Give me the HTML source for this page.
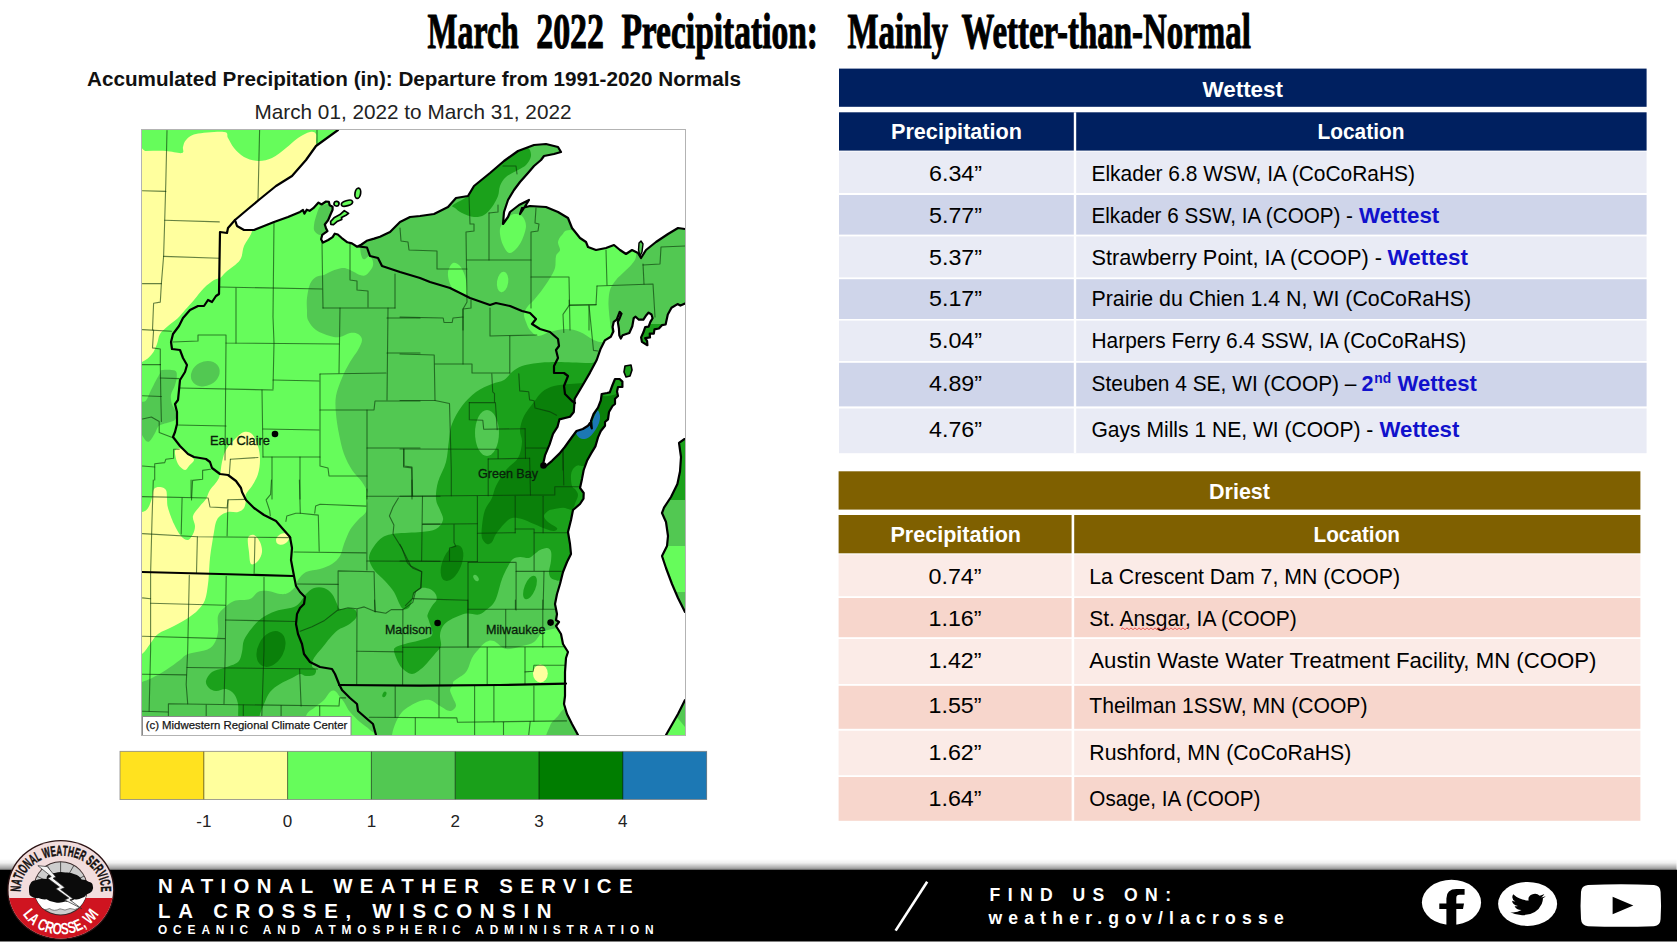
<!DOCTYPE html>
<html lang="en"><head><meta charset="utf-8"><title>March 2022 Precipitation: Mainly Wetter-than-Normal</title>
<style>
html,body{margin:0;padding:0;background:#fff;}
body{width:1678px;height:944px;overflow:hidden;font-family:"Liberation Sans",sans-serif;}
svg{display:block;position:absolute;left:0;top:0;}
text{white-space:pre;}
</style></head><body>
<svg width="1678" height="944" viewBox="0 0 1678 944">
<rect width="1678" height="944" fill="#fff"/>
<text x="427.6" y="47.7" textLength="91.2" lengthAdjust="spacingAndGlyphs" font-family='"Liberation Serif", serif' font-size="50.2" font-weight="bold" fill="#000" stroke="#000" stroke-width="1.1" stroke-linejoin="round">March</text>
<text x="536.2" y="47.7" textLength="67.8" lengthAdjust="spacingAndGlyphs" font-family='"Liberation Serif", serif' font-size="50.2" font-weight="bold" fill="#000" stroke="#000" stroke-width="1.1" stroke-linejoin="round">2022</text>
<text x="621.4" y="47.7" textLength="196.6" lengthAdjust="spacingAndGlyphs" font-family='"Liberation Serif", serif' font-size="50.2" font-weight="bold" fill="#000" stroke="#000" stroke-width="1.1" stroke-linejoin="round">Precipitation:</text>
<text x="847.4" y="47.7" textLength="100.6" lengthAdjust="spacingAndGlyphs" font-family='"Liberation Serif", serif' font-size="50.2" font-weight="bold" fill="#000" stroke="#000" stroke-width="1.1" stroke-linejoin="round">Mainly</text>
<text x="961.4" y="47.7" textLength="289.4" lengthAdjust="spacingAndGlyphs" font-family='"Liberation Serif", serif' font-size="50.2" font-weight="bold" fill="#000" stroke="#000" stroke-width="1.1" stroke-linejoin="round">Wetter-than-Normal</text>
<text x="87" y="86.3" textLength="654" lengthAdjust="spacingAndGlyphs" font-family='"Liberation Sans", sans-serif' font-size="19.6" font-weight="bold" fill="#111" >Accumulated Precipitation (in): Departure from 1991-2020 Normals</text>
<text x="254.5" y="119.2" textLength="317.0" lengthAdjust="spacingAndGlyphs" font-family='"Liberation Sans", sans-serif' font-size="19.8" font-weight="normal" fill="#222" >March 01, 2022 to March 31, 2022</text>
<defs><clipPath id="mapclip"><rect x="142" y="130" width="543" height="605"/></clipPath></defs>
<g clip-path="url(#mapclip)">
<rect x="137" y="125" width="553" height="615" fill="#66fc5b"/>
<path d="M125 151 C128.5 115.2 139.2 151.0 146 151 C152.8 151.0 160.0 150.7 166 151 C172.0 151.3 179.2 153.7 182 153 C184.8 152.3 182.3 149.2 183 147 C183.7 144.8 183.8 142.2 186 140 C188.2 137.8 189.7 135.3 196 134 C202.3 132.7 218.7 131.3 224 132 C229.3 132.7 226.3 135.3 228 138 C229.7 140.7 231.3 144.8 234 148 C236.7 151.2 240.0 154.8 244 157 C248.0 159.2 253.3 160.8 258 161 C262.7 161.2 267.3 160.2 272 158 C276.7 155.8 281.7 151.3 286 148 C290.3 144.7 294.0 140.7 298 138 C302.0 135.3 307.0 132.7 310 132 C313.0 131.3 314.8 131.8 316 134 C317.2 136.2 314.7 142.3 317 145 C319.3 147.7 332.8 143.3 330 150 C327.2 156.7 311.3 175.0 300 185 C288.7 195.0 271.0 203.8 262 210 C253.0 216.2 247.7 218.5 246 222 C244.3 225.5 252.3 227.0 252 231 C251.7 235.0 246.0 241.2 244 246 C242.0 250.8 243.0 255.7 240 260 C237.0 264.3 229.3 269.0 226 272 C222.7 275.0 222.0 276.7 220 278 C218.0 279.3 216.7 278.3 214 280 C211.3 281.7 207.3 284.7 204 288 C200.7 291.3 197.2 296.3 194 300 C190.8 303.7 187.7 307.0 185 310 C182.3 313.0 180.8 315.3 178 318 C175.2 320.7 171.0 323.3 168 326 C165.0 328.7 161.8 331.0 160 334 C158.2 337.0 158.3 340.7 157 344 C155.7 347.3 154.5 351.0 152 354 C149.5 357.0 146.5 360.0 142 362 C137.5 364.0 127.8 401.2 125 366 C122.2 330.8 121.5 186.8 125 151 Z" fill="#ffff9e" />
<path d="M244 432 C246.7 431.3 249.7 431.7 252 434 C254.3 436.3 256.7 441.7 258 446 C259.3 450.3 260.0 455.3 260 460 C260.0 464.7 259.3 469.7 258 474 C256.7 478.3 254.0 482.7 252 486 C250.0 489.3 247.0 491.7 246 494 C245.0 496.3 246.3 497.7 246 500 C245.7 502.3 245.3 506.0 244 508 C242.7 510.0 240.7 511.3 238 512 C235.3 512.7 231.0 511.3 228 512 C225.0 512.7 222.0 514.3 220 516 C218.0 517.7 217.0 519.3 216 522 C215.0 524.7 214.7 528.3 214 532 C213.3 535.7 212.7 539.7 212 544 C211.3 548.3 210.5 553.3 210 558 C209.5 562.7 209.3 567.7 209 572 C208.7 576.3 208.7 579.3 208 584 C207.3 588.7 206.7 595.7 205 600 C203.3 604.3 200.8 607.0 198 610 C195.2 613.0 192.0 615.3 188 618 C184.0 620.7 179.0 623.3 174 626 C169.0 628.7 162.0 631.0 158 634 C154.0 637.0 152.7 640.7 150 644 C147.3 647.3 146.2 650.7 142 654 C137.8 657.3 127.8 687.3 125 664 C122.2 640.7 122.2 539.3 125 514 C127.8 488.7 138.2 513.0 142 512 C145.8 511.0 146.3 510.3 148 508 C149.7 505.7 151.0 501.2 152 498 C153.0 494.8 152.7 490.8 154 489 C155.3 487.2 158.0 486.8 160 487 C162.0 487.2 164.8 488.0 166 490 C167.2 492.0 166.7 496.0 167 499 C167.3 502.0 166.8 503.8 168 508 C169.2 512.2 171.8 519.3 174 524 C176.2 528.7 178.7 533.3 181 536 C183.3 538.7 186.0 540.3 188 540 C190.0 539.7 191.8 536.3 193 534 C194.2 531.7 195.0 529.0 195 526 C195.0 523.0 192.2 519.3 193 516 C193.8 512.7 197.8 508.8 200 506 C202.2 503.2 204.3 501.7 206 499 C207.7 496.3 207.8 493.5 210 490 C212.2 486.5 217.0 482.7 219 478 C221.0 473.3 220.8 466.7 222 462 C223.2 457.3 223.7 454.0 226 450 C228.3 446.0 233.0 441.0 236 438 C239.0 435.0 241.3 432.7 244 432 Z" fill="#ffff9e" />
<path d="M175 451 C175.5 448.5 178.5 448.2 181 449 C183.5 449.8 187.8 454.2 190 456 C192.2 457.8 194.2 458.3 194 460 C193.8 461.7 190.5 464.3 189 466 C187.5 467.7 186.8 470.3 185 470 C183.2 469.7 179.7 467.2 178 464 C176.3 460.8 174.5 453.5 175 451 Z" fill="#ffff9e" />
<path d="M248 538 C248.8 535.2 252.0 534.3 254 535 C256.0 535.7 258.7 539.2 260 542 C261.3 544.8 262.3 548.8 262 552 C261.7 555.2 259.8 559.0 258 561 C256.2 563.0 252.5 565.5 251 564 C249.5 562.5 249.5 556.3 249 552 C248.5 547.7 247.2 540.8 248 538 Z" fill="#ffff9e" />
<ellipse cx="282.5" cy="539" rx="7" ry="5.2" transform="rotate(-30 282.5 539)" fill="#ffff9e" />
<path d="M360 246 C361.7 270.3 367.8 253.3 370 256 C372.2 258.7 372.7 260.0 373 262 C373.3 264.0 373.2 265.8 372 268 C370.8 270.2 368.0 273.8 366 275 C364.0 276.2 362.0 275.5 360 275 C358.0 274.5 356.0 273.0 354 272 C352.0 271.0 350.0 269.7 348 269 C346.0 268.3 344.7 267.7 342 268 C339.3 268.3 335.0 269.8 332 271 C329.0 272.2 326.7 274.0 324 275 C321.3 276.0 318.3 275.5 316 277 C313.7 278.5 311.5 280.5 310 284 C308.5 287.5 307.5 293.7 307 298 C306.5 302.3 306.8 306.3 307 310 C307.2 313.7 306.5 316.7 308 320 C309.5 323.3 312.3 327.3 316 330 C319.7 332.7 326.0 334.8 330 336 C334.0 337.2 336.7 337.5 340 337 C343.3 336.5 347.0 333.5 350 333 C353.0 332.5 356.0 332.8 358 334 C360.0 335.2 362.0 337.3 362 340 C362.0 342.7 360.0 346.3 358 350 C356.0 353.7 352.7 357.3 350 362 C347.3 366.7 344.3 372.3 342 378 C339.7 383.7 337.0 390.0 336 396 C335.0 402.0 335.5 407.7 336 414 C336.5 420.3 337.7 427.3 339 434 C340.3 440.7 341.8 448.0 344 454 C346.2 460.0 349.0 465.3 352 470 C355.0 474.7 359.3 478.0 362 482 C364.7 486.0 367.2 490.3 368 494 C368.8 497.7 367.3 501.0 367 504 C366.7 507.0 367.5 509.3 366 512 C364.5 514.7 360.7 517.0 358 520 C355.3 523.0 352.3 526.0 350 530 C347.7 534.0 345.7 539.7 344 544 C342.3 548.3 342.0 552.7 340 556 C338.0 559.3 335.3 561.8 332 564 C328.7 566.2 324.3 567.7 320 569 C315.7 570.3 309.7 570.2 306 572 C302.3 573.8 299.7 577.7 298 580 C296.3 582.3 297.7 583.8 296 586 C294.3 588.2 290.7 591.7 288 593 C285.3 594.3 283.3 594.3 280 594 C276.7 593.7 271.7 591.3 268 591 C264.3 590.7 261.0 590.7 258 592 C255.0 593.3 254.0 597.5 250 599 C246.0 600.5 238.3 599.5 234 601 C229.7 602.5 226.7 605.5 224 608 C221.3 610.5 219.0 612.0 218 616 C217.0 620.0 218.7 627.3 218 632 C217.3 636.7 216.0 641.0 214 644 C212.0 647.0 210.3 648.3 206 650 C201.7 651.7 192.3 652.3 188 654 C183.7 655.7 183.7 657.3 180 660 C176.3 662.7 170.7 667.0 166 670 C161.3 673.0 156.0 676.0 152 678 C148.0 680.0 147.3 680.0 142 682 C136.7 684.0 123.7 678.7 120 690 C116.3 701.3 74.7 740.0 120 750 C165.3 760.0 346.7 752.5 392 750 C437.3 747.5 391.3 739.7 392 735 C392.7 730.3 394.3 725.8 396 722 C397.7 718.2 399.7 714.7 402 712 C404.3 709.3 407.0 707.8 410 706 C413.0 704.2 416.7 702.0 420 701 C423.3 700.0 426.7 699.2 430 700 C433.3 700.8 436.7 704.2 440 706 C443.3 707.8 447.3 711.0 450 711 C452.7 711.0 455.5 708.2 456 706 C456.5 703.8 454.0 700.7 453 698 C452.0 695.3 450.0 692.2 450 690 C450.0 687.8 452.3 686.5 453 685 C453.7 683.5 451.8 683.2 454 681 C456.2 678.8 463.0 675.8 466 672 C469.0 668.2 470.0 661.7 472 658 C474.0 654.3 475.7 652.7 478 650 C480.3 647.3 483.3 643.5 486 642 C488.7 640.5 490.7 639.8 494 641 C497.3 642.2 501.3 648.2 506 649 C510.7 649.8 517.3 647.2 522 646 C526.7 644.8 530.7 644.3 534 642 C537.3 639.7 539.7 634.0 542 632 C544.3 630.0 545.3 630.7 548 630 C550.7 629.3 553.5 628.7 558 628 C562.5 627.3 561.3 630.7 575 626 C588.7 621.3 615.8 604.3 640 600 C664.2 595.7 706.7 681.7 720 600 C733.3 518.3 780.0 191.7 720 110 C660.0 28.3 420.0 87.3 360 110 C300.0 132.7 358.3 221.7 360 246 Z" fill="#52c852" />
<path d="M319.3 207.4 C320.6 205.6 322.2 205.6 324 205 C325.8 204.4 328.5 203.5 330 204 C331.5 204.5 333.0 206.1 333 208 C333.0 209.9 331.4 212.8 330 215.6 C328.6 218.3 324.8 221.8 324.5 224.5 C324.2 227.2 328.8 229.8 328 231.5 C327.2 233.2 322.2 235.0 320 234.9 C317.8 234.8 315.5 232.8 314.5 231.1 C313.5 229.4 313.8 227.1 314.1 224.5 C314.4 221.9 315.4 218.4 316.3 215.6 C317.2 212.8 318.0 209.2 319.3 207.4 Z" fill="#52c852" />
<path d="M162 370 C164.4 369.6 172.3 369.4 174.8 370.5 C177.3 371.6 176.8 374.3 176.8 376.8 C176.8 379.3 175.8 382.7 174.8 385.7 C173.8 388.7 171.5 391.6 171 394.6 C170.5 397.6 170.9 400.5 171.7 403.5 C172.5 406.5 175.5 409.6 176 412.4 C176.5 415.1 176.9 418.1 174.8 420 C172.7 421.9 166.2 422.9 163.4 424 C160.7 425.1 159.8 424.7 158.3 426.4 C156.8 428.1 156.1 431.4 154.5 434 C152.9 436.6 150.6 441.1 148.8 441.7 C147.0 442.3 145.5 440.8 143.7 437.8 C141.9 434.9 138.9 429.7 138 424 C137.1 418.3 136.7 407.3 138 403.5 C139.3 399.7 143.5 403.1 145.6 401 C147.7 398.9 149.0 394.2 150.7 390.8 C152.4 387.4 154.2 383.7 155.8 380.7 C157.4 377.7 159.2 374.8 160.2 373 C161.2 371.2 159.6 370.4 162 370 Z" fill="#52c852" />
<ellipse cx="205.3" cy="373.7" rx="15" ry="12" transform="rotate(-28 205.3 373.7)" fill="#52c852" />
<path d="M548 745 C541.3 741.8 548.3 730.8 550 726 C551.7 721.2 555.7 718.8 558 716 C560.3 713.2 561.2 710.8 564 709 C566.8 707.2 570.7 699.0 575 705 C579.3 711.0 594.5 738.3 590 745 C585.5 751.7 554.7 748.2 548 745 Z" fill="#52c852" />
<path d="M660 745 L672 722 L690 705 L700 745 Z" fill="#66fc5b" />
<path d="M676 716 L690 690 L700 700 L700 745 Z" fill="#52c852" />
<path d="M514 214 C516.3 213.7 520.0 214.0 522 216 C524.0 218.0 526.0 222.0 526 226 C526.0 230.0 523.7 236.2 522 240 C520.3 243.8 518.2 246.8 516 249 C513.8 251.2 511.2 253.7 509 253 C506.8 252.3 504.5 248.2 503 245 C501.5 241.8 500.3 237.2 500 234 C499.7 230.8 499.7 228.7 501 226 C502.3 223.3 505.8 220.0 508 218 C510.2 216.0 511.7 214.3 514 214 Z" fill="#66fc5b" />
<ellipse cx="502.6" cy="282" rx="5.6" ry="10.3" transform="rotate(8 502.6 282)" fill="#66fc5b" />
<path d="M448 272 C448.5 268.5 451.0 264.0 453 263 C455.0 262.0 458.0 263.8 460 266 C462.0 268.2 463.8 272.3 465 276 C466.2 279.7 466.8 284.7 467 288 C467.2 291.3 467.8 295.3 466 296 C464.2 296.7 458.7 294.0 456 292 C453.3 290.0 451.3 287.3 450 284 C448.7 280.7 447.5 275.5 448 272 Z" fill="#66fc5b" />
<path d="M562 235 C564.0 233.0 563.7 230.0 570 230 C576.3 230.0 589.3 233.3 600 235 C610.7 236.7 628.0 236.5 634 240 C640.0 243.5 636.3 252.0 636 256 C635.7 260.0 634.0 261.3 632 264 C630.0 266.7 626.7 269.3 624 272 C621.3 274.7 618.3 277.0 616 280 C613.7 283.0 611.2 286.3 610 290 C608.8 293.7 608.7 298.3 608.5 302 C608.3 305.7 608.8 308.7 609 312 C609.2 315.3 609.7 318.3 610 322 C610.3 325.7 611.7 330.8 611 334 C610.3 337.2 607.8 339.7 606 341 C604.2 342.3 602.3 342.3 600 342 C597.7 341.7 595.3 340.7 592 339 C588.7 337.3 584.3 333.7 580 332 C575.7 330.3 571.0 329.0 566 329 C561.0 329.0 554.7 330.8 550 332 C545.3 333.2 541.3 336.3 538 336 C534.7 335.7 532.0 332.3 530 330 C528.0 327.7 527.0 324.7 526 322 C525.0 319.3 523.7 316.7 524 314 C524.3 311.3 526.3 308.3 528 306 C529.7 303.7 531.7 302.7 534 300 C536.3 297.3 539.3 293.7 542 290 C544.7 286.3 547.8 281.7 550 278 C552.2 274.3 554.0 271.7 555 268 C556.0 264.3 555.2 259.0 556 256 C556.8 253.0 559.7 252.3 560 250 C560.3 247.7 557.7 244.5 558 242 C558.3 239.5 560.0 237.0 562 235 Z" fill="#66fc5b" />
<path d="M306 716 C308.3 710.3 311.0 710.7 314 708 C317.0 705.3 321.3 702.7 324 700 C326.7 697.3 328.2 693.5 330 692 C331.8 690.5 333.3 690.2 335 691 C336.7 691.8 338.5 695.2 340 697 C341.5 698.8 342.3 699.5 344 702 C345.7 704.5 347.3 708.7 350 712 C352.7 715.3 356.7 719.0 360 722 C363.3 725.0 367.0 726.7 370 730 C373.0 733.3 389.7 740.0 378 742 C366.3 744.0 312.0 746.3 300 742 C288.0 737.7 303.7 721.7 306 716 Z" fill="#66fc5b" />
<ellipse cx="540.4" cy="673.5" rx="7.4" ry="9" transform="rotate(0 540.4 673.5)" fill="#ffff9e" />
<path d="M655 546 L700 546 L700 592 L655 592 Z" fill="#66fc5b" />
<path d="M590 363 C576.3 362.8 566.7 362.0 558 362 C549.3 362.0 544.0 362.3 538 363 C532.0 363.7 526.3 364.5 522 366 C517.7 367.5 515.0 369.7 512 372 C509.0 374.3 507.3 378.0 504 380 C500.7 382.0 496.7 382.0 492 384 C487.3 386.0 481.0 388.3 476 392 C471.0 395.7 466.0 400.7 462 406 C458.0 411.3 454.2 418.3 452 424 C449.8 429.7 450.0 433.7 449 440 C448.0 446.3 447.8 455.0 446 462 C444.2 469.0 439.7 475.8 438 482 C436.3 488.2 435.7 494.3 436 499 C436.3 503.7 438.8 506.5 440 510 C441.2 513.5 443.7 516.8 443 520 C442.3 523.2 439.7 527.0 436 529 C432.3 531.0 427.7 531.2 421 532 C414.3 532.8 402.3 532.7 396 533.5 C389.7 534.3 386.8 534.8 383 537 C379.2 539.2 375.8 543.5 373.5 547 C371.2 550.5 368.9 554.2 369 558 C369.1 561.8 371.3 566.2 374 570 C376.7 573.8 381.7 577.3 385 581 C388.3 584.7 391.7 588.3 394 592 C396.3 595.7 397.5 600.2 399 603 C400.5 605.8 401.4 608.2 403 609 C404.6 609.8 407.1 609.3 408.6 608 C410.1 606.7 411.1 603.3 412 601 C412.9 598.7 412.5 596.2 414 594 C415.5 591.8 418.3 588.8 421 588 C423.7 587.2 427.6 588.0 430 589 C432.4 590.0 434.5 592.2 435.6 594 C436.7 595.8 437.1 598.0 436.5 600 C435.9 602.0 433.5 603.5 432 606 C430.5 608.5 428.0 612.5 427.5 615 C427.0 617.5 428.2 617.7 429 621 C429.8 624.3 433.7 631.7 432 635 C430.3 638.3 423.5 639.1 419 640.6 C414.5 642.1 408.8 642.9 405 644 C401.2 645.1 397.8 645.8 396 647 C394.2 648.2 393.7 648.5 394 651 C394.3 653.5 396.5 659.0 398 662 C399.5 665.0 400.7 667.0 403 669 C405.3 671.0 409.0 674.0 412 674 C415.0 674.0 418.3 671.0 421 669 C423.7 667.0 425.6 664.7 428 662 C430.4 659.3 433.4 655.7 435.6 653 C437.8 650.3 440.3 649.0 441 646 C441.7 643.0 439.7 638.3 440 635 C440.3 631.7 441.3 628.5 443 626 C444.7 623.5 447.0 621.8 450 620 C453.0 618.2 458.0 616.1 461 615 C464.0 613.9 465.0 613.7 468 613.6 C471.0 613.5 476.0 615.1 479 614.5 C482.0 613.9 483.7 611.8 486 610 C488.3 608.2 491.2 606.3 493 604 C494.8 601.7 495.5 600.2 497 596 C498.5 591.8 500.2 583.8 502 579 C503.8 574.2 505.8 570.3 507.6 567 C509.4 563.7 510.9 560.7 513 559 C515.1 557.3 517.3 557.2 520 557 C522.7 556.8 526.6 558.5 529 558 C531.4 557.5 532.8 555.3 534.6 554 C536.4 552.7 537.9 551.0 540 550 C542.1 549.0 545.2 547.8 547 548 C548.8 548.2 550.3 549.3 551 551.5 C551.7 553.7 551.3 557.6 551 561 C550.7 564.4 549.0 569.2 549 572 C549.0 574.8 549.8 576.7 551 578 C552.2 579.3 553.5 579.5 556 580 C558.5 580.5 552.0 580.8 566 581 C580.0 581.2 627.7 617.3 640 581 C652.3 544.7 648.3 399.3 640 363 C631.7 326.7 603.7 363.2 590 363 Z" fill="#1ba11b" />
<path d="M453 205 C455.2 203.0 464.5 199.2 468 196 C471.5 192.8 470.3 189.8 474 186 C477.7 182.2 485.0 177.2 490 173 C495.0 168.8 499.3 164.8 504 161 C508.7 157.2 514.0 152.2 518 150 C522.0 147.8 525.8 147.0 528 148 C530.2 149.0 531.3 153.2 531 156 C530.7 158.8 528.2 162.7 526 165 C523.8 167.3 521.3 168.0 518 170 C514.7 172.0 509.0 174.3 506 177 C503.0 179.7 501.3 182.8 500 186 C498.7 189.2 499.3 192.5 498 196 C496.7 199.5 494.3 203.8 492 207 C489.7 210.2 487.0 213.3 484 215 C481.0 216.7 477.7 217.3 474 217 C470.3 216.7 465.2 214.5 462 213 C458.8 211.5 456.5 209.3 455 208 C453.5 206.7 450.8 207.0 453 205 Z" fill="#1ba11b" />
<path d="M206 681 C206.5 678.3 209.0 674.2 212 672 C215.0 669.8 219.7 669.7 224 668 C228.3 666.3 235.0 664.7 238 662 C241.0 659.3 241.0 655.7 242 652 C243.0 648.3 242.3 644.0 244 640 C245.7 636.0 249.0 631.7 252 628 C255.0 624.3 258.0 620.8 262 618 C266.0 615.2 270.3 613.0 276 611 C281.7 609.0 291.0 608.8 296 606 C301.0 603.2 303.0 597.0 306 594 C309.0 591.0 311.0 589.0 314 588 C317.0 587.0 321.0 587.0 324 588 C327.0 589.0 329.8 591.3 332 594 C334.2 596.7 335.7 601.5 337 604 C338.3 606.5 337.8 608.3 340 609 C342.2 609.7 347.3 607.7 350 608 C352.7 608.3 355.0 609.3 356 611 C357.0 612.7 357.3 615.7 356 618 C354.7 620.3 351.0 623.0 348 625 C345.0 627.0 341.0 627.8 338 630 C335.0 632.2 332.7 635.0 330 638 C327.3 641.0 324.7 644.7 322 648 C319.3 651.3 315.7 655.0 314 658 C312.3 661.0 311.7 664.0 312 666 C312.3 668.0 315.7 668.5 316 670 C316.3 671.5 315.7 674.0 314 675 C312.3 676.0 308.3 676.2 306 676 C303.7 675.8 302.3 673.7 300 674 C297.7 674.3 295.3 676.3 292 678 C288.7 679.7 283.7 681.7 280 684 C276.3 686.3 272.7 688.7 270 692 C267.3 695.3 265.7 700.3 264 704 C262.3 707.7 261.0 711.0 260 714 C259.0 717.0 261.3 720.7 258 722 C254.7 723.3 243.3 725.0 240 722 C236.7 719.0 239.0 708.7 238 704 C237.0 699.3 236.0 696.5 234 694 C232.0 691.5 229.0 689.5 226 689 C223.0 688.5 218.8 691.2 216 691 C213.2 690.8 210.7 689.7 209 688 C207.3 686.3 205.5 683.7 206 681 Z" fill="#1ba11b" />
<path d="M638 324 L664 324 L664 350 L638 350 Z" fill="#1ba11b" />
<path d="M655 430 L700 430 L700 500 L655 500 Z" fill="#1ba11b" />
<ellipse cx="530" cy="587.5" rx="5.5" ry="12.5" transform="rotate(22 530 587.5)" fill="#1ba11b" />
<ellipse cx="384.4" cy="694.4" rx="1.8" ry="3" transform="rotate(25 384.4 694.4)" fill="#1ba11b" />
<ellipse cx="487" cy="433" rx="12" ry="23" transform="rotate(0 487 433)" fill="#52c852" />
<ellipse cx="476" cy="578" rx="2.2" ry="3.6" transform="rotate(-35 476 578)" fill="#52c852" />
<path d="M584 383 C579.3 383.2 575.0 383.5 570 384 C565.0 384.5 558.7 384.7 554 386 C549.3 387.3 545.3 389.3 542 392 C538.7 394.7 537.0 398.0 534 402 C531.0 406.0 526.3 411.3 524 416 C521.7 420.7 520.3 425.7 520 430 C519.7 434.3 522.3 437.3 522 442 C521.7 446.7 520.7 453.3 518 458 C515.3 462.7 509.7 465.3 506 470 C502.3 474.7 498.3 481.3 496 486 C493.7 490.7 493.8 494.0 492 498 C490.2 502.0 486.7 505.3 485 510 C483.3 514.7 482.5 521.3 482 526 C481.5 530.7 481.2 535.0 482 538 C482.8 541.0 485.3 543.3 487 544 C488.7 544.7 490.5 543.7 492 542 C493.5 540.3 494.0 537.0 496 534 C498.0 531.0 501.3 526.7 504 524 C506.7 521.3 509.0 518.8 512 518 C515.0 517.2 518.3 518.0 522 519 C525.7 520.0 530.0 522.3 534 524 C538.0 525.7 542.7 527.8 546 529 C549.3 530.2 552.2 531.2 554 531 C555.8 530.8 558.0 529.5 557 528 C556.0 526.5 550.2 524.0 548 522 C545.8 520.0 544.0 517.8 544 516 C544.0 514.2 546.7 512.1 548 511 C549.3 509.9 549.5 510.1 552 509.5 C554.5 508.9 559.7 507.7 563 507.7 C566.3 507.7 569.9 510.4 572 509.5 C574.1 508.6 574.6 504.4 575.6 502 C576.6 499.6 578.0 497.1 578 495 C578.0 492.9 576.6 491.2 575.6 489.7 C574.6 488.2 572.8 488.4 572 486 C571.2 483.6 570.7 478.0 571 475 C571.3 472.0 572.5 469.6 573.8 468 C575.1 466.4 577.0 465.6 579 465.3 C581.0 465.0 575.8 465.9 586 466 C596.2 466.1 631.0 477.7 640 466 C649.0 454.3 646.0 407.7 640 396 C634.0 384.3 611.0 398.2 604 396 C597.0 393.8 601.3 385.2 598 383 C594.7 380.8 588.7 382.8 584 383 Z" fill="#0a800a" />
<ellipse cx="452" cy="563" rx="9.5" ry="19" transform="rotate(22 452 563)" fill="#0a800a" />
<ellipse cx="271" cy="649" rx="13" ry="19" transform="rotate(28 271 649)" fill="#0a800a" />
<path d="M575.6 432 C575.6 430.6 577.5 429.8 579 429 C580.5 428.2 582.9 428.2 584.6 427.5 C586.3 426.8 587.8 424.6 589 424.8 C590.2 425.1 591.2 429.6 591.8 429 C592.4 428.4 592.1 423.5 592.7 421 C593.3 418.5 594.5 415.8 595.4 414 C596.3 412.2 597.2 410.1 598 410.4 C598.8 410.7 599.8 413.7 600 415.8 C600.2 417.9 599.8 420.6 599 423 C598.2 425.4 596.9 427.8 595.4 430 C593.9 432.2 591.8 435.0 590 436.5 C588.2 438.0 586.4 438.9 584.6 439 C582.8 439.1 580.5 438.6 579 437.4 C577.5 436.2 575.6 433.4 575.6 432 Z" fill="#1c78b4" />
<path d="M167 130.6 L165.8 182.9 L164.7 220.8 L163.6 256.4 L161.4 283.1 L160.3 302.1 L153.6 303.2 L152.5 329.9" fill="none" stroke="#083408" stroke-width="1.1" stroke-linejoin="round" stroke-linecap="round" stroke-opacity="0.62"/>
<path d="M142.5 190.7 L165.8 191.4" fill="none" stroke="#083408" stroke-width="1.1" stroke-linejoin="round" stroke-linecap="round" stroke-opacity="0.62"/>
<path d="M164.7 220.3 L219.3 221.9" fill="none" stroke="#083408" stroke-width="1.1" stroke-linejoin="round" stroke-linecap="round" stroke-opacity="0.62"/>
<path d="M163.6 256.4 L219.3 258.2" fill="none" stroke="#083408" stroke-width="1.1" stroke-linejoin="round" stroke-linecap="round" stroke-opacity="0.62"/>
<path d="M142.5 283.6 L161.4 283.6" fill="none" stroke="#083408" stroke-width="1.1" stroke-linejoin="round" stroke-linecap="round" stroke-opacity="0.62"/>
<path d="M259.6 130 L258 200" fill="none" stroke="#083408" stroke-width="1.1" stroke-linejoin="round" stroke-linecap="round" stroke-opacity="0.62"/>
<path d="M317 130 L317 146" fill="none" stroke="#083408" stroke-width="1.1" stroke-linejoin="round" stroke-linecap="round" stroke-opacity="0.62"/>
<path d="M142.5 329.6 L171.4 331.2" fill="none" stroke="#083408" stroke-width="1.1" stroke-linejoin="round" stroke-linecap="round" stroke-opacity="0.62"/>
<path d="M153.6 330 L152.5 347.9 L160.3 349 L160.3 364.6" fill="none" stroke="#083408" stroke-width="1.1" stroke-linejoin="round" stroke-linecap="round" stroke-opacity="0.62"/>
<path d="M142.5 364.6 L160.3 364.6" fill="none" stroke="#083408" stroke-width="1.1" stroke-linejoin="round" stroke-linecap="round" stroke-opacity="0.62"/>
<path d="M160.3 364.6 L160.8 396.5 L161.4 421.4" fill="none" stroke="#083408" stroke-width="1.1" stroke-linejoin="round" stroke-linecap="round" stroke-opacity="0.62"/>
<path d="M160.3 378 L179.2 378.6" fill="none" stroke="#083408" stroke-width="1.1" stroke-linejoin="round" stroke-linecap="round" stroke-opacity="0.62"/>
<path d="M142.5 395.8 L161.4 396.5" fill="none" stroke="#083408" stroke-width="1.1" stroke-linejoin="round" stroke-linecap="round" stroke-opacity="0.62"/>
<path d="M142.5 419 L151.4 417 L159.2 421.4 L159.2 432.5 L173.6 438.1" fill="none" stroke="#083408" stroke-width="1.1" stroke-linejoin="round" stroke-linecap="round" stroke-opacity="0.62"/>
<path d="M179.2 449.2 L173.6 449.2 L173.6 458.2 L165.8 459.3 L164.7 462.6 L154.7 463.7 L154.7 480" fill="none" stroke="#083408" stroke-width="1.1" stroke-linejoin="round" stroke-linecap="round" stroke-opacity="0.62"/>
<path d="M142.5 466 L154.7 467" fill="none" stroke="#083408" stroke-width="1.1" stroke-linejoin="round" stroke-linecap="round" stroke-opacity="0.62"/>
<path d="M191.5 500 L192.6 480.4 L202.6 479.3 L202.6 470.4 L210.4 469.3" fill="none" stroke="#083408" stroke-width="1.1" stroke-linejoin="round" stroke-linecap="round" stroke-opacity="0.62"/>
<path d="M230.4 459.3 L229.3 474.9" fill="none" stroke="#083408" stroke-width="1.1" stroke-linejoin="round" stroke-linecap="round" stroke-opacity="0.62"/>
<path d="M230.4 459.3 L258 457.5" fill="none" stroke="#083408" stroke-width="1.1" stroke-linejoin="round" stroke-linecap="round" stroke-opacity="0.62"/>
<path d="M274 222 L273 317 L274 343 L273 389" fill="none" stroke="#083408" stroke-width="1.1" stroke-linejoin="round" stroke-linecap="round" stroke-opacity="0.62"/>
<path d="M220 287 L322 289" fill="none" stroke="#083408" stroke-width="1.1" stroke-linejoin="round" stroke-linecap="round" stroke-opacity="0.62"/>
<path d="M236 288 L236 343" fill="none" stroke="#083408" stroke-width="1.1" stroke-linejoin="round" stroke-linecap="round" stroke-opacity="0.62"/>
<path d="M322 242 L323 308" fill="none" stroke="#083408" stroke-width="1.1" stroke-linejoin="round" stroke-linecap="round" stroke-opacity="0.62"/>
<path d="M323 308 L395 308" fill="none" stroke="#083408" stroke-width="1.1" stroke-linejoin="round" stroke-linecap="round" stroke-opacity="0.62"/>
<path d="M350 244 L350 280 L357 281 L357 290 L368 291 L368 307" fill="none" stroke="#083408" stroke-width="1.1" stroke-linejoin="round" stroke-linecap="round" stroke-opacity="0.62"/>
<path d="M395 274 L395 308" fill="none" stroke="#083408" stroke-width="1.1" stroke-linejoin="round" stroke-linecap="round" stroke-opacity="0.62"/>
<path d="M340 308 L339 373" fill="none" stroke="#083408" stroke-width="1.1" stroke-linejoin="round" stroke-linecap="round" stroke-opacity="0.62"/>
<path d="M388 308 L387 400" fill="none" stroke="#083408" stroke-width="1.1" stroke-linejoin="round" stroke-linecap="round" stroke-opacity="0.62"/>
<path d="M400 228 L401 241 L408 242 L409 250 L437 251 L437 269 L467 269" fill="none" stroke="#083408" stroke-width="1.1" stroke-linejoin="round" stroke-linecap="round" stroke-opacity="0.62"/>
<path d="M469 196 L470 224 L474 224 L474 231 L466 232 L467 302 L463 309 L463 330" fill="none" stroke="#083408" stroke-width="1.1" stroke-linejoin="round" stroke-linecap="round" stroke-opacity="0.62"/>
<path d="M489 213 L489 260" fill="none" stroke="#083408" stroke-width="1.1" stroke-linejoin="round" stroke-linecap="round" stroke-opacity="0.62"/>
<path d="M467 260 L531 260" fill="none" stroke="#083408" stroke-width="1.1" stroke-linejoin="round" stroke-linecap="round" stroke-opacity="0.62"/>
<path d="M498 205 L498 212 L489 213" fill="none" stroke="#083408" stroke-width="1.1" stroke-linejoin="round" stroke-linecap="round" stroke-opacity="0.62"/>
<path d="M503 166 L516 166 L517 174" fill="none" stroke="#083408" stroke-width="1.1" stroke-linejoin="round" stroke-linecap="round" stroke-opacity="0.62"/>
<path d="M536 208 L535 223 L539 224 L538 231 L531 232 L531 308" fill="none" stroke="#083408" stroke-width="1.1" stroke-linejoin="round" stroke-linecap="round" stroke-opacity="0.62"/>
<path d="M531 277 L569 277 L570 330" fill="none" stroke="#083408" stroke-width="1.1" stroke-linejoin="round" stroke-linecap="round" stroke-opacity="0.62"/>
<path d="M606 250 L607 285" fill="none" stroke="#083408" stroke-width="1.1" stroke-linejoin="round" stroke-linecap="round" stroke-opacity="0.62"/>
<path d="M597 286 L653 284 L655 317" fill="none" stroke="#083408" stroke-width="1.1" stroke-linejoin="round" stroke-linecap="round" stroke-opacity="0.62"/>
<path d="M597 286 L596 305 L570 305" fill="none" stroke="#083408" stroke-width="1.1" stroke-linejoin="round" stroke-linecap="round" stroke-opacity="0.62"/>
<path d="M589 306 L589 330" fill="none" stroke="#083408" stroke-width="1.1" stroke-linejoin="round" stroke-linecap="round" stroke-opacity="0.62"/>
<path d="M643 264 L644 284" fill="none" stroke="#083408" stroke-width="1.1" stroke-linejoin="round" stroke-linecap="round" stroke-opacity="0.62"/>
<path d="M643 265 L660 264 L661 247 L685 246" fill="none" stroke="#083408" stroke-width="1.1" stroke-linejoin="round" stroke-linecap="round" stroke-opacity="0.62"/>
<path d="M173 342 L198 341 L198 335 L226 335 L226 343 L339 344" fill="none" stroke="#083408" stroke-width="1.1" stroke-linejoin="round" stroke-linecap="round" stroke-opacity="0.62"/>
<path d="M226 343 L225 460" fill="none" stroke="#083408" stroke-width="1.1" stroke-linejoin="round" stroke-linecap="round" stroke-opacity="0.62"/>
<path d="M180 388 L273 390" fill="none" stroke="#083408" stroke-width="1.1" stroke-linejoin="round" stroke-linecap="round" stroke-opacity="0.62"/>
<path d="M273 380 L319 381" fill="none" stroke="#083408" stroke-width="1.1" stroke-linejoin="round" stroke-linecap="round" stroke-opacity="0.62"/>
<path d="M320 374 L386 373" fill="none" stroke="#083408" stroke-width="1.1" stroke-linejoin="round" stroke-linecap="round" stroke-opacity="0.62"/>
<path d="M320 374 L320 466 L328 468 L329 476 L367 476" fill="none" stroke="#083408" stroke-width="1.1" stroke-linejoin="round" stroke-linecap="round" stroke-opacity="0.62"/>
<path d="M262 390 L263 457" fill="none" stroke="#083408" stroke-width="1.1" stroke-linejoin="round" stroke-linecap="round" stroke-opacity="0.62"/>
<path d="M177 425 L226 426" fill="none" stroke="#083408" stroke-width="1.1" stroke-linejoin="round" stroke-linecap="round" stroke-opacity="0.62"/>
<path d="M263 429 L319 430" fill="none" stroke="#083408" stroke-width="1.1" stroke-linejoin="round" stroke-linecap="round" stroke-opacity="0.62"/>
<path d="M320 410 L374 410 L375 401 L420 401" fill="none" stroke="#083408" stroke-width="1.1" stroke-linejoin="round" stroke-linecap="round" stroke-opacity="0.62"/>
<path d="M367 410 L367 499" fill="none" stroke="#083408" stroke-width="1.1" stroke-linejoin="round" stroke-linecap="round" stroke-opacity="0.62"/>
<path d="M367 448 L420 448" fill="none" stroke="#083408" stroke-width="1.1" stroke-linejoin="round" stroke-linecap="round" stroke-opacity="0.62"/>
<path d="M263 457 L320 457" fill="none" stroke="#083408" stroke-width="1.1" stroke-linejoin="round" stroke-linecap="round" stroke-opacity="0.62"/>
<path d="M272 457 L272 499" fill="none" stroke="#083408" stroke-width="1.1" stroke-linejoin="round" stroke-linecap="round" stroke-opacity="0.62"/>
<path d="M300 457 L300 499" fill="none" stroke="#083408" stroke-width="1.1" stroke-linejoin="round" stroke-linecap="round" stroke-opacity="0.62"/>
<path d="M404 449 L404 466 L412 467 L412 499" fill="none" stroke="#083408" stroke-width="1.1" stroke-linejoin="round" stroke-linecap="round" stroke-opacity="0.62"/>
<path d="M387 318 L420 318" fill="none" stroke="#083408" stroke-width="1.1" stroke-linejoin="round" stroke-linecap="round" stroke-opacity="0.62"/>
<path d="M387 353 L420 353" fill="none" stroke="#083408" stroke-width="1.1" stroke-linejoin="round" stroke-linecap="round" stroke-opacity="0.62"/>
<path d="M400 317.1 L443.2 318 L444 322.5 L452.2 322.5 L453 318 L463 317" fill="none" stroke="#083408" stroke-width="1.1" stroke-linejoin="round" stroke-linecap="round" stroke-opacity="0.62"/>
<path d="M471 300 L471 308 L463 309 L463 364" fill="none" stroke="#083408" stroke-width="1.1" stroke-linejoin="round" stroke-linecap="round" stroke-opacity="0.62"/>
<path d="M400 354 L434.2 355 L435 400.5" fill="none" stroke="#083408" stroke-width="1.1" stroke-linejoin="round" stroke-linecap="round" stroke-opacity="0.62"/>
<path d="M435 364 L472 364 L472 373 L509.8 373" fill="none" stroke="#083408" stroke-width="1.1" stroke-linejoin="round" stroke-linecap="round" stroke-opacity="0.62"/>
<path d="M490 308 L490 336 L536.8 335" fill="none" stroke="#083408" stroke-width="1.1" stroke-linejoin="round" stroke-linecap="round" stroke-opacity="0.62"/>
<path d="M509.8 336 L509.8 373" fill="none" stroke="#083408" stroke-width="1.1" stroke-linejoin="round" stroke-linecap="round" stroke-opacity="0.62"/>
<path d="M491.8 373.8 L492.7 391.8 L494.5 393.6 L494.5 402" fill="none" stroke="#083408" stroke-width="1.1" stroke-linejoin="round" stroke-linecap="round" stroke-opacity="0.62"/>
<path d="M400 400.5 L435 400.5 L449.5 403.5 L451.3 470 L451.3 495.8" fill="none" stroke="#083408" stroke-width="1.1" stroke-linejoin="round" stroke-linecap="round" stroke-opacity="0.62"/>
<path d="M469.3 402.6 L495.4 402.6 L497.2 429.6" fill="none" stroke="#083408" stroke-width="1.1" stroke-linejoin="round" stroke-linecap="round" stroke-opacity="0.62"/>
<path d="M469.3 402.6 L469.3 419.7 L482.8 420.3 L483.7 429.3 L525.1 428.7" fill="none" stroke="#083408" stroke-width="1.1" stroke-linejoin="round" stroke-linecap="round" stroke-opacity="0.62"/>
<path d="M518.8 373.8 L519.7 390.9 L528.7 391.8 L529.6 399.9 L534.1 400.8 L535 408 L549.4 411.6 L556.6 415.2" fill="none" stroke="#083408" stroke-width="1.1" stroke-linejoin="round" stroke-linecap="round" stroke-opacity="0.62"/>
<path d="M525.1 428.7 L525.5 458.4" fill="none" stroke="#083408" stroke-width="1.1" stroke-linejoin="round" stroke-linecap="round" stroke-opacity="0.62"/>
<path d="M488.2 459 L529.6 458.3" fill="none" stroke="#083408" stroke-width="1.1" stroke-linejoin="round" stroke-linecap="round" stroke-opacity="0.62"/>
<path d="M400 449 L498.1 449.3 L498.1 458.4" fill="none" stroke="#083408" stroke-width="1.1" stroke-linejoin="round" stroke-linecap="round" stroke-opacity="0.62"/>
<path d="M569.2 300 L569.2 305.4 L596.2 304.5" fill="none" stroke="#083408" stroke-width="1.1" stroke-linejoin="round" stroke-linecap="round" stroke-opacity="0.62"/>
<path d="M569.2 305.4 L563 314.4 L563.8 332.4" fill="none" stroke="#083408" stroke-width="1.1" stroke-linejoin="round" stroke-linecap="round" stroke-opacity="0.62"/>
<path d="M589 305.4 L593.5 350.4 L598 351" fill="none" stroke="#083408" stroke-width="1.1" stroke-linejoin="round" stroke-linecap="round" stroke-opacity="0.62"/>
<path d="M403.6 449 L403.6 467 L411.7 467.9 L412.6 495.8" fill="none" stroke="#083408" stroke-width="1.1" stroke-linejoin="round" stroke-linecap="round" stroke-opacity="0.62"/>
<path d="M400 496.2 L554.8 494.9 L554.8 486.8 L580 486.8" fill="none" stroke="#083408" stroke-width="1.1" stroke-linejoin="round" stroke-linecap="round" stroke-opacity="0.62"/>
<path d="M488.2 458.9 L488.2 495.8" fill="none" stroke="#083408" stroke-width="1.1" stroke-linejoin="round" stroke-linecap="round" stroke-opacity="0.62"/>
<path d="M529.6 458 L530.5 494.9" fill="none" stroke="#083408" stroke-width="1.1" stroke-linejoin="round" stroke-linecap="round" stroke-opacity="0.62"/>
<path d="M526 448 L562.9 448.1 L563.8 485" fill="none" stroke="#083408" stroke-width="1.1" stroke-linejoin="round" stroke-linecap="round" stroke-opacity="0.62"/>
<path d="M422.5 496.2 L421.6 560.6" fill="none" stroke="#083408" stroke-width="1.1" stroke-linejoin="round" stroke-linecap="round" stroke-opacity="0.62"/>
<path d="M422.5 524.2 L477.4 523.7" fill="none" stroke="#083408" stroke-width="1.1" stroke-linejoin="round" stroke-linecap="round" stroke-opacity="0.62"/>
<path d="M477.4 496.2 L477.4 561.5" fill="none" stroke="#083408" stroke-width="1.1" stroke-linejoin="round" stroke-linecap="round" stroke-opacity="0.62"/>
<path d="M477.4 533.2 L515.2 532.7" fill="none" stroke="#083408" stroke-width="1.1" stroke-linejoin="round" stroke-linecap="round" stroke-opacity="0.62"/>
<path d="M515.2 496.2 L515.2 532.7" fill="none" stroke="#083408" stroke-width="1.1" stroke-linejoin="round" stroke-linecap="round" stroke-opacity="0.62"/>
<path d="M515.2 529 L534.1 529 L534.1 570.5" fill="none" stroke="#083408" stroke-width="1.1" stroke-linejoin="round" stroke-linecap="round" stroke-opacity="0.62"/>
<path d="M543.1 496.2 L543.1 532.7" fill="none" stroke="#083408" stroke-width="1.1" stroke-linejoin="round" stroke-linecap="round" stroke-opacity="0.62"/>
<path d="M534.1 532.7 L568.3 532.7" fill="none" stroke="#083408" stroke-width="1.1" stroke-linejoin="round" stroke-linecap="round" stroke-opacity="0.62"/>
<path d="M400 561 L477.4 561.5" fill="none" stroke="#083408" stroke-width="1.1" stroke-linejoin="round" stroke-linecap="round" stroke-opacity="0.62"/>
<path d="M468.4 562.4 L516.1 562.4 L516.1 610" fill="none" stroke="#083408" stroke-width="1.1" stroke-linejoin="round" stroke-linecap="round" stroke-opacity="0.62"/>
<path d="M454 524.6 L454 542.6 L455.8 546.2 L449.5 548 L449.5 560.6" fill="none" stroke="#083408" stroke-width="1.1" stroke-linejoin="round" stroke-linecap="round" stroke-opacity="0.62"/>
<path d="M468 562.4 L468 647" fill="none" stroke="#083408" stroke-width="1.1" stroke-linejoin="round" stroke-linecap="round" stroke-opacity="0.62"/>
<path d="M516.1 571.4 L561.1 571.4" fill="none" stroke="#083408" stroke-width="1.1" stroke-linejoin="round" stroke-linecap="round" stroke-opacity="0.62"/>
<path d="M544 571.4 L543.1 609" fill="none" stroke="#083408" stroke-width="1.1" stroke-linejoin="round" stroke-linecap="round" stroke-opacity="0.62"/>
<path d="M400 544.4 L405.4 555.2 L410.8 566 L421.6 571.4 L420.7 587.6 L413.5 593 L412.6 598.4 L405.4 605.6" fill="none" stroke="#083408" stroke-width="1.1" stroke-linejoin="round" stroke-linecap="round" stroke-opacity="0.62"/>
<path d="M412.6 598.6 L467.5 600.2" fill="none" stroke="#083408" stroke-width="1.1" stroke-linejoin="round" stroke-linecap="round" stroke-opacity="0.62"/>
<path d="M271.5 480 L270.6 494.4 L266.1 499.8 L269.7 510.6 L270.3 516" fill="none" stroke="#083408" stroke-width="1.1" stroke-linejoin="round" stroke-linecap="round" stroke-opacity="0.62"/>
<path d="M299.4 480 L300.3 513.3" fill="none" stroke="#083408" stroke-width="1.1" stroke-linejoin="round" stroke-linecap="round" stroke-opacity="0.62"/>
<path d="M285.9 521.4 L286.8 516 L295.8 513.3 L300.3 513.3 L318.3 515.1 L319.2 551.1" fill="none" stroke="#083408" stroke-width="1.1" stroke-linejoin="round" stroke-linecap="round" stroke-opacity="0.62"/>
<path d="M314.7 513.3 L315.6 506.1 L320.1 504.3 L366 506.1" fill="none" stroke="#083408" stroke-width="1.1" stroke-linejoin="round" stroke-linecap="round" stroke-opacity="0.62"/>
<path d="M366.9 489 L366.9 570" fill="none" stroke="#083408" stroke-width="1.1" stroke-linejoin="round" stroke-linecap="round" stroke-opacity="0.62"/>
<path d="M366.9 496.2 L440 496.2" fill="none" stroke="#083408" stroke-width="1.1" stroke-linejoin="round" stroke-linecap="round" stroke-opacity="0.62"/>
<path d="M411.9 480 L411.9 496.2" fill="none" stroke="#083408" stroke-width="1.1" stroke-linejoin="round" stroke-linecap="round" stroke-opacity="0.62"/>
<path d="M422.7 524.1 L440 524.1" fill="none" stroke="#083408" stroke-width="1.1" stroke-linejoin="round" stroke-linecap="round" stroke-opacity="0.62"/>
<path d="M294 552 L366 552.9" fill="none" stroke="#083408" stroke-width="1.1" stroke-linejoin="round" stroke-linecap="round" stroke-opacity="0.62"/>
<path d="M366.9 561 L440 561.4" fill="none" stroke="#083408" stroke-width="1.1" stroke-linejoin="round" stroke-linecap="round" stroke-opacity="0.62"/>
<path d="M338.1 609.6 L338.1 570.9 L374.1 571.8 L375 611.4" fill="none" stroke="#083408" stroke-width="1.1" stroke-linejoin="round" stroke-linecap="round" stroke-opacity="0.62"/>
<path d="M297.6 584 L338.1 584.4" fill="none" stroke="#083408" stroke-width="1.1" stroke-linejoin="round" stroke-linecap="round" stroke-opacity="0.62"/>
<path d="M300.3 631.2 L312 626.7 L324.6 620.4 L337.2 610.5 L348 607.8 L357 608.7 L364.2 606.9 L375 611.4 L385.8 613.2 L391.2 609.6 L402.9 609.6 L412.8 602.4 L415.5 591.6 L421 588 L421.8 571.8 L412.8 568.2 L407.4 562.8 L402 548.4 L393 534 L393.9 525 L389.4 516 L393 507 L398.4 498" fill="none" stroke="#083408" stroke-width="1.1" stroke-linejoin="round" stroke-linecap="round" stroke-opacity="0.62"/>
<path d="M357 609.6 L356.7 684.5" fill="none" stroke="#083408" stroke-width="1.1" stroke-linejoin="round" stroke-linecap="round" stroke-opacity="0.62"/>
<path d="M402.9 609.6 L402.6 684.5" fill="none" stroke="#083408" stroke-width="1.1" stroke-linejoin="round" stroke-linecap="round" stroke-opacity="0.62"/>
<path d="M153.3 480 L152 520 L150.6 573.6 L150.6 650 L149.1 711.2" fill="none" stroke="#083408" stroke-width="1.1" stroke-linejoin="round" stroke-linecap="round" stroke-opacity="0.62"/>
<path d="M142.5 496.6 L208.2 498 L210 507 L227.1 507.9 L228 499.8 L246 499.4" fill="none" stroke="#083408" stroke-width="1.1" stroke-linejoin="round" stroke-linecap="round" stroke-opacity="0.62"/>
<path d="M191.1 480 L191.1 497.1" fill="none" stroke="#083408" stroke-width="1.1" stroke-linejoin="round" stroke-linecap="round" stroke-opacity="0.62"/>
<path d="M182.1 498 L181.2 534" fill="none" stroke="#083408" stroke-width="1.1" stroke-linejoin="round" stroke-linecap="round" stroke-opacity="0.62"/>
<path d="M142.5 533.6 L197.4 536.7 L291 537.6" fill="none" stroke="#083408" stroke-width="1.1" stroke-linejoin="round" stroke-linecap="round" stroke-opacity="0.62"/>
<path d="M228 499.8 L227.1 535.8" fill="none" stroke="#083408" stroke-width="1.1" stroke-linejoin="round" stroke-linecap="round" stroke-opacity="0.62"/>
<path d="M197.4 536.7 L196.5 572.7" fill="none" stroke="#083408" stroke-width="1.1" stroke-linejoin="round" stroke-linecap="round" stroke-opacity="0.62"/>
<path d="M255 537.6 L254.1 574.5" fill="none" stroke="#083408" stroke-width="1.1" stroke-linejoin="round" stroke-linecap="round" stroke-opacity="0.62"/>
<path d="M189.3 575.4 L187.7 650 L186.2 684.5 L187.7 703.8" fill="none" stroke="#083408" stroke-width="1.1" stroke-linejoin="round" stroke-linecap="round" stroke-opacity="0.62"/>
<path d="M226.2 576.3 L225.3 650 L224 703.8" fill="none" stroke="#083408" stroke-width="1.1" stroke-linejoin="round" stroke-linecap="round" stroke-opacity="0.62"/>
<path d="M264 577.2 L264 650 L261.8 715.7" fill="none" stroke="#083408" stroke-width="1.1" stroke-linejoin="round" stroke-linecap="round" stroke-opacity="0.62"/>
<path d="M142.5 597.9 L150.6 598.8" fill="none" stroke="#083408" stroke-width="1.1" stroke-linejoin="round" stroke-linecap="round" stroke-opacity="0.62"/>
<path d="M150.6 603.3 L225.5 605.2" fill="none" stroke="#083408" stroke-width="1.1" stroke-linejoin="round" stroke-linecap="round" stroke-opacity="0.62"/>
<path d="M225.5 620 L296.4 621.5" fill="none" stroke="#083408" stroke-width="1.1" stroke-linejoin="round" stroke-linecap="round" stroke-opacity="0.62"/>
<path d="M142.4 636.3 L224.8 638.6" fill="none" stroke="#083408" stroke-width="1.1" stroke-linejoin="round" stroke-linecap="round" stroke-opacity="0.62"/>
<path d="M187 667.5 L317.4 669" fill="none" stroke="#083408" stroke-width="1.1" stroke-linejoin="round" stroke-linecap="round" stroke-opacity="0.62"/>
<path d="M142.4 674.2 L186.2 674.9" fill="none" stroke="#083408" stroke-width="1.1" stroke-linejoin="round" stroke-linecap="round" stroke-opacity="0.62"/>
<path d="M299.6 669 L301.1 706" fill="none" stroke="#083408" stroke-width="1.1" stroke-linejoin="round" stroke-linecap="round" stroke-opacity="0.62"/>
<path d="M168.4 715.7 L168.4 703.8 L339 706 L339.7 697.9 L345.6 697.9" fill="none" stroke="#083408" stroke-width="1.1" stroke-linejoin="round" stroke-linecap="round" stroke-opacity="0.62"/>
<path d="M206.2 705 L206.2 716" fill="none" stroke="#083408" stroke-width="1.1" stroke-linejoin="round" stroke-linecap="round" stroke-opacity="0.62"/>
<path d="M243.3 705 L243.3 716" fill="none" stroke="#083408" stroke-width="1.1" stroke-linejoin="round" stroke-linecap="round" stroke-opacity="0.62"/>
<path d="M281.1 705.5 L281.1 716" fill="none" stroke="#083408" stroke-width="1.1" stroke-linejoin="round" stroke-linecap="round" stroke-opacity="0.62"/>
<path d="M319.7 706 L319.7 716" fill="none" stroke="#083408" stroke-width="1.1" stroke-linejoin="round" stroke-linecap="round" stroke-opacity="0.62"/>
<path d="M142.4 711.2 L167.7 712" fill="none" stroke="#083408" stroke-width="1.1" stroke-linejoin="round" stroke-linecap="round" stroke-opacity="0.62"/>
<path d="M356.7 651.2 L402.6 651.9" fill="none" stroke="#083408" stroke-width="1.1" stroke-linejoin="round" stroke-linecap="round" stroke-opacity="0.62"/>
<path d="M374.5 600 L375.2 611.9" fill="none" stroke="#083408" stroke-width="1.1" stroke-linejoin="round" stroke-linecap="round" stroke-opacity="0.62"/>
<path d="M402.6 647.2 L565 646.7" fill="none" stroke="#083408" stroke-width="1.1" stroke-linejoin="round" stroke-linecap="round" stroke-opacity="0.62"/>
<path d="M467.9 600 L467.9 647.2" fill="none" stroke="#083408" stroke-width="1.1" stroke-linejoin="round" stroke-linecap="round" stroke-opacity="0.62"/>
<path d="M439.7 647.2 L439.7 684.5" fill="none" stroke="#083408" stroke-width="1.1" stroke-linejoin="round" stroke-linecap="round" stroke-opacity="0.62"/>
<path d="M505.7 609.6 L505.7 647.2" fill="none" stroke="#083408" stroke-width="1.1" stroke-linejoin="round" stroke-linecap="round" stroke-opacity="0.62"/>
<path d="M467.9 609.2 L554.7 609.2" fill="none" stroke="#083408" stroke-width="1.1" stroke-linejoin="round" stroke-linecap="round" stroke-opacity="0.62"/>
<path d="M515.4 600 L515.4 609.2" fill="none" stroke="#083408" stroke-width="1.1" stroke-linejoin="round" stroke-linecap="round" stroke-opacity="0.62"/>
<path d="M542.8 600 L542.8 647.2" fill="none" stroke="#083408" stroke-width="1.1" stroke-linejoin="round" stroke-linecap="round" stroke-opacity="0.62"/>
<path d="M487.2 647.5 L487.2 684.5" fill="none" stroke="#083408" stroke-width="1.1" stroke-linejoin="round" stroke-linecap="round" stroke-opacity="0.62"/>
<path d="M525 647.5 L525 683.8" fill="none" stroke="#083408" stroke-width="1.1" stroke-linejoin="round" stroke-linecap="round" stroke-opacity="0.62"/>
<path d="M525 671.9 L533.2 671.2 L533.9 665.3 L565 665.3" fill="none" stroke="#083408" stroke-width="1.1" stroke-linejoin="round" stroke-linecap="round" stroke-opacity="0.62"/>
<path d="M395.2 686 L395.2 717.2" fill="none" stroke="#083408" stroke-width="1.1" stroke-linejoin="round" stroke-linecap="round" stroke-opacity="0.62"/>
<path d="M369.3 717.2 L456.8 717.9 L457.5 722.3 L566.5 720.9" fill="none" stroke="#083408" stroke-width="1.1" stroke-linejoin="round" stroke-linecap="round" stroke-opacity="0.62"/>
<path d="M439 686 L439 717.2" fill="none" stroke="#083408" stroke-width="1.1" stroke-linejoin="round" stroke-linecap="round" stroke-opacity="0.62"/>
<path d="M474.6 686 L474.6 735" fill="none" stroke="#083408" stroke-width="1.1" stroke-linejoin="round" stroke-linecap="round" stroke-opacity="0.62"/>
<path d="M493.9 686 L493.9 721.9" fill="none" stroke="#083408" stroke-width="1.1" stroke-linejoin="round" stroke-linecap="round" stroke-opacity="0.62"/>
<path d="M533.9 686 L533.9 721.3" fill="none" stroke="#083408" stroke-width="1.1" stroke-linejoin="round" stroke-linecap="round" stroke-opacity="0.62"/>
<path d="M415.3 717.9 L415.3 735" fill="none" stroke="#083408" stroke-width="1.1" stroke-linejoin="round" stroke-linecap="round" stroke-opacity="0.62"/>
<path d="M503.5 722.3 L503.5 735" fill="none" stroke="#083408" stroke-width="1.1" stroke-linejoin="round" stroke-linecap="round" stroke-opacity="0.62"/>
<path d="M530.2 721.6 L528.7 735" fill="none" stroke="#083408" stroke-width="1.1" stroke-linejoin="round" stroke-linecap="round" stroke-opacity="0.62"/>
<path d="M563 449.4 L563 470" fill="none" stroke="#083408" stroke-width="1.1" stroke-linejoin="round" stroke-linecap="round" stroke-opacity="0.62"/>
<path d="M345 115 L338 130 L316 146 L306 160 L292 176 L276 186 L260 199 L248 209 L235 220 L237 226 L244 230 L254 230 L264 226 L274 222 L288 217 L300 211.9 L303 210 L304.4 213.7 L306.7 209.7 L309.6 210.8 L313.3 208.2 L318.5 202.6 L321.5 204.5 L326 201.5 L328.9 201.9 L329.7 205.2 L332.6 206.7 L332.6 209.7 L330.4 214.8 L328.2 220 L324.8 224.5 L326 228.2 L327.4 231.1 L322.2 234.9 L321.1 239.3 L323 242.6 L328.2 240 L332.6 237.1 L334.8 233.7 L337.8 234.5 L341.5 237.8 L347.4 242.3 L351.9 243.4 L357.1 246.7 L361.5 244.5 L366.7 240.8 L374.1 238.6 L380 236.7 L390 232 L400 222 L410 217 L420 216 L434 214 L448 207 L456 198 L468 196 L474 186 L490 173 L504 161 L518 151 L534 145 L546 144 L558 147 L561 152 L554 154 L544 156 L541 160 L534 166 L528 173 L520 182 L514 190 L508 200 L504 212 L503 224 L508 217 L510 212 L519 205 L529 200 L524 208 L520 214 L522 208 L530 206 L546 207 L558 212 L568 218 L572 228 L580 238 L586 242 L588 247 L596 250 L606 248 L614 245 L620 250 L626 254 L632 250 L638 253 L641 258 L646 250 L656 242 L668 234 L678 228 L685 229 L700 229 L700 115 Z" fill="#fff" stroke="#000" stroke-width="2.2" stroke-linejoin="round"/>
<path d="M700 303 L684.5 303.7 L680.4 305.6 L677.5 304.1 L671.5 307.8 L667.8 314.5 L665.6 324.5 L661.9 325.2 L658.9 328.5 L654.5 329.3 L653.8 333.7 L649.7 333.7 L650 337.4 L645.2 338.2 L647.1 341.1 L647.4 345.2 L641.9 341.9 L641.1 337.4 L643.4 332.3 L645.2 327.1 L648.6 326.7 L650.4 321.9 L652.6 318.2 L651.5 314.5 L648.6 312.6 L646.3 315.2 L643.4 319.7 L638.9 319.7 L635.6 316.7 L633.7 318.2 L632.3 326.3 L629.3 333 L622.6 335.2 L620.8 338.6 L619.3 335.2 L618.9 328.5 L617.8 321.9 L619.7 318.2 L621.5 313.7 L619.7 311.9 L616.7 319.7 L613.7 321.9 L612.6 327 L613.4 331.5 L610.8 336.7 L604.8 340.4 L600.4 349.3 L596.7 360 L590 372.6 L582.8 385 L574.7 398.7 L573.8 412 L570 416.7 L559.4 419.4 L557.6 426.6 L553 433.8 L549.5 444.6 L545 455.4 L543 464.4 L546 466 L552 460.8 L559.4 453.6 L564.8 447 L572 437 L576.5 431 L582.8 429 L588 425.7 L590 423 L591.8 428.4 L591 421 L593.6 414 L598 407.7 L600.8 400.5 L601.7 394 L607 393 L609.8 392.4 L612.5 385 L615 379 L619.7 379 L622.4 381.6 L622.4 387 L618 387 L617 391.5 L618 396 L615 398.7 L615 404 L612.5 406 L609 412 L608 419.4 L605 422 L605 425.7 L600.8 431 L598 437.4 L595.4 446.4 L591 453.6 L587 460.8 L583.7 470 L582 478.9 L580 487.9 L583.7 493 L583.5 498.7 L580 504 L573 510 L571 520 L568 532 L570 544 L571 554 L567 562 L563 572 L560 584 L557 594 L555 604 L557 614 L556 620 L559 622 L556 626 L561 634 L563 644 L568 652 L566 658 L565 672 L565 684 L565 696 L564 704 L567 714 L572 724 L578 735 L580 748 L664 748 L666 735 L670 728 L678 714 L685 700 L700 700 L700 612 L685 612 L678 598 L672 584 L666 568 L662 556 L667 546 L668 536 L666 522 L662 513 L664 507.7 L671 497 L677.4 484 L680 471.6 L681 457 L679 442.8 L684.6 439 L700 439 Z" fill="#fff" stroke="#000" stroke-width="2.2" stroke-linejoin="round"/>
<path d="M625 366 L631 365 L632 370 L630 376 L626 377 L624 372 Z" fill="#1ba11b" stroke="#000" stroke-width="1.6" stroke-linejoin="round"/>
<path d="M639 243 L641 241 L643 244 L642 252 L640 256 L638.5 250 Z" fill="#52c852" stroke="#000" stroke-width="1.4" stroke-linejoin="round"/>
<ellipse cx="336.5" cy="203.7" rx="2.5" ry="2.3" transform="rotate(10 336.5 203.7)" fill="#66fc5b" stroke="#000" stroke-width="1.7"/>
<ellipse cx="347" cy="203.2" rx="5.8" ry="2.6" transform="rotate(-18 347 203.2)" fill="#66fc5b" stroke="#000" stroke-width="1.7"/>
<ellipse cx="357.8" cy="193.3" rx="2.8" ry="5.2" transform="rotate(10 357.8 193.3)" fill="#66fc5b" stroke="#000" stroke-width="1.7"/>
<path d="M330.6 221.5 L334 217.8 L340 214.6 L344.3 210.6 L348.6 213.4 L346 215.2 L341.5 217.6 L341.8 219.4 L337 221.6 L333.5 224.6 L330.8 224.3 Z" fill="#66fc5b" stroke="#000" stroke-width="1.7" stroke-linejoin="round"/>
<path d="M235 220 L228 228 L227 233 L220 232 L219.5 262 L219 294 L216 296 L212 302 L208 300 L204 306 L198 306 L190 310 L183 318 L179 326 L173 334 L171 342 L172 349 L180 350 L183 358 L187 365 L185 372 L180 380 L179 390 L178 400 L175 404 L177 412 L177 424 L175 432 L173 437 L180 446 L188 454 L194 457 L206 459 L210 462 L212 468 L220 474 L228 475 L236 481 L241 488 L242 492 L246 500 L254 508 L264 515 L276 521 L282 528 L290 537 L292 548 L291 560 L294 576 L296 586 L300 592 L305 597 L304 604 L300 608 L297 614 L296 624 L298 634 L302 644 L304 654 L310 662 L320 667 L332 669 L335 674 L339 684 L342 690 L350 698 L357 704 L358 711 L366 718 L373 724 L376 735 L377 745" fill="none" stroke="#000" stroke-width="2.2" stroke-linejoin="round" stroke-linecap="round" />
<path d="M130 571.7 L142 572 L220 574 L293 576" fill="none" stroke="#000" stroke-width="2.2" stroke-linejoin="round" stroke-linecap="round" />
<path d="M339 685 L420 685.6 L500 685 L566 683.6" fill="none" stroke="#000" stroke-width="2.2" stroke-linejoin="round" stroke-linecap="round" />
<path d="M358.5 246.3 L367 247.5 L370 256 L378 258 L382 266 L400 272 L420 278 L430 282 L450 288 L470 298 L490 305 L496 303 L510 306 L522 311 L530 313 L536 319 L532 324 L540 329 L550 332 L558 339 L559 346 L556 350 L558 358 L554 366 L554 373 L564 373 L568 376 L564 386 L565 394 L572 401 L575 403" fill="none" stroke="#000" stroke-width="2.2" stroke-linejoin="round" stroke-linecap="round" />
<circle cx="275" cy="434" r="3.3" fill="#000"/>
<text x="210" y="445" textLength="60" lengthAdjust="spacingAndGlyphs" font-family='"Liberation Sans", sans-serif' font-size="12.6" fill="#08200a" stroke="#08200a" stroke-width="0.3">Eau Claire</text>
<circle cx="543.5" cy="465.5" r="3.3" fill="#000"/>
<text x="478" y="477.5" textLength="60" lengthAdjust="spacingAndGlyphs" font-family='"Liberation Sans", sans-serif' font-size="12.6" fill="#08200a" stroke="#08200a" stroke-width="0.3">Green Bay</text>
<circle cx="437.6" cy="623" r="3.3" fill="#000"/>
<text x="385" y="634" textLength="47" lengthAdjust="spacingAndGlyphs" font-family='"Liberation Sans", sans-serif' font-size="12.6" fill="#08200a" stroke="#08200a" stroke-width="0.3">Madison</text>
<circle cx="550.6" cy="622.6" r="3.3" fill="#000"/>
<text x="486" y="634" textLength="59.5" lengthAdjust="spacingAndGlyphs" font-family='"Liberation Sans", sans-serif' font-size="12.6" fill="#08200a" stroke="#08200a" stroke-width="0.3">Milwaukee</text>
<rect x="142.5" y="716.5" width="208.5" height="19" fill="#fff" stroke="#8a8a8a" stroke-width="1"/>
<text x="145.7" y="728.6" textLength="201.7" lengthAdjust="spacingAndGlyphs" font-family='"Liberation Sans", sans-serif' font-size="11" fill="#161616" stroke="#161616" stroke-width="0.25">(c) Midwestern Regional Climate Center</text>
</g>
<rect x="141.5" y="129.5" width="544" height="606" fill="none" stroke="#9a9a9a" stroke-opacity="0.75" stroke-width="1"/>
<rect x="120.0" y="751.4" width="84.1" height="48.1" fill="#ffe21f"/>
<rect x="203.8" y="751.4" width="84.1" height="48.1" fill="#ffff9d"/>
<rect x="287.6" y="751.4" width="84.1" height="48.1" fill="#66fc5b"/>
<rect x="371.4" y="751.4" width="84.1" height="48.1" fill="#52c852"/>
<rect x="455.2" y="751.4" width="84.1" height="48.1" fill="#1aa01a"/>
<rect x="539.0" y="751.4" width="84.1" height="48.1" fill="#007d00"/>
<rect x="622.8" y="751.4" width="84.1" height="48.1" fill="#1c78b4"/>
<line x1="203.8" y1="751.4" x2="203.8" y2="799.5" stroke="#000" stroke-opacity="0.55" stroke-width="1"/>
<line x1="287.6" y1="751.4" x2="287.6" y2="799.5" stroke="#000" stroke-opacity="0.55" stroke-width="1"/>
<line x1="371.4" y1="751.4" x2="371.4" y2="799.5" stroke="#000" stroke-opacity="0.55" stroke-width="1"/>
<line x1="455.2" y1="751.4" x2="455.2" y2="799.5" stroke="#000" stroke-opacity="0.55" stroke-width="1"/>
<line x1="539.0" y1="751.4" x2="539.0" y2="799.5" stroke="#000" stroke-opacity="0.55" stroke-width="1"/>
<line x1="622.8" y1="751.4" x2="622.8" y2="799.5" stroke="#000" stroke-opacity="0.55" stroke-width="1"/>
<rect x="120.0" y="751.4" width="586.6" height="48.1" fill="none" stroke="#777" stroke-opacity="0.7" stroke-width="1"/>
<text x="203.8" y="827.1" text-anchor="middle" font-family='"Liberation Sans", sans-serif' font-size="17" fill="#222">-1</text>
<text x="287.6" y="827.1" text-anchor="middle" font-family='"Liberation Sans", sans-serif' font-size="17" fill="#222">0</text>
<text x="371.4" y="827.1" text-anchor="middle" font-family='"Liberation Sans", sans-serif' font-size="17" fill="#222">1</text>
<text x="455.2" y="827.1" text-anchor="middle" font-family='"Liberation Sans", sans-serif' font-size="17" fill="#222">2</text>
<text x="539.0" y="827.1" text-anchor="middle" font-family='"Liberation Sans", sans-serif' font-size="17" fill="#222">3</text>
<text x="622.8" y="827.1" text-anchor="middle" font-family='"Liberation Sans", sans-serif' font-size="17" fill="#222">4</text>
<rect x="839" y="68.6" width="807.5999999999999" height="38.20" fill="#002060"/>
<rect x="839" y="112.3" width="807.5999999999999" height="38.30" fill="#002060"/>
<rect x="839" y="151.6" width="807.5999999999999" height="41.40" fill="#e9ebf5"/>
<rect x="839" y="195.0" width="807.5999999999999" height="39.60" fill="#cfd5ea"/>
<rect x="839" y="236.4" width="807.5999999999999" height="41.00" fill="#e9ebf5"/>
<rect x="839" y="279.2" width="807.5999999999999" height="39.80" fill="#cfd5ea"/>
<rect x="839" y="320.6" width="807.5999999999999" height="40.40" fill="#e9ebf5"/>
<rect x="839" y="362.8" width="807.5999999999999" height="43.60" fill="#cfd5ea"/>
<rect x="839" y="408.5" width="807.5999999999999" height="44.70" fill="#e9ebf5"/>
<rect x="1073.8" y="112.3" width="2.40" height="340.90" fill="#fff"/>
<text x="1202.5" y="96.8" textLength="80.5" lengthAdjust="spacingAndGlyphs" font-family='"Liberation Sans", sans-serif' font-size="21.6" font-weight="bold" fill="#fff" >Wettest</text>
<text x="891" y="138.8" textLength="131" lengthAdjust="spacingAndGlyphs" font-family='"Liberation Sans", sans-serif' font-size="21.6" font-weight="bold" fill="#fff" >Precipitation</text>
<text x="1317.5" y="138.8" textLength="87.0" lengthAdjust="spacingAndGlyphs" font-family='"Liberation Sans", sans-serif' font-size="21.6" font-weight="bold" fill="#fff" >Location</text>
<text x="929" y="181.3" textLength="53" lengthAdjust="spacingAndGlyphs" font-family='"Liberation Sans", sans-serif' font-size="21.6" font-weight="normal" fill="#000" >6.34”</text>
<text x="929" y="223.0" textLength="53" lengthAdjust="spacingAndGlyphs" font-family='"Liberation Sans", sans-serif' font-size="21.6" font-weight="normal" fill="#000" >5.77”</text>
<text x="929" y="264.5" textLength="53" lengthAdjust="spacingAndGlyphs" font-family='"Liberation Sans", sans-serif' font-size="21.6" font-weight="normal" fill="#000" >5.37”</text>
<text x="929" y="306.4" textLength="53" lengthAdjust="spacingAndGlyphs" font-family='"Liberation Sans", sans-serif' font-size="21.6" font-weight="normal" fill="#000" >5.17”</text>
<text x="929" y="348.0" textLength="53" lengthAdjust="spacingAndGlyphs" font-family='"Liberation Sans", sans-serif' font-size="21.6" font-weight="normal" fill="#000" >5.04”</text>
<text x="929" y="390.5" textLength="53" lengthAdjust="spacingAndGlyphs" font-family='"Liberation Sans", sans-serif' font-size="21.6" font-weight="normal" fill="#000" >4.89”</text>
<text x="929" y="437.0" textLength="53" lengthAdjust="spacingAndGlyphs" font-family='"Liberation Sans", sans-serif' font-size="21.6" font-weight="normal" fill="#000" >4.76”</text>
<text x="1091.5" y="181.3" textLength="323.5" lengthAdjust="spacingAndGlyphs" font-family='"Liberation Sans", sans-serif' font-size="21.6" font-weight="normal" fill="#000" >Elkader 6.8 WSW, IA (CoCoRaHS)</text>
<text x="1091.5" y="223.0" textLength="261.5" lengthAdjust="spacingAndGlyphs" font-family='"Liberation Sans", sans-serif' font-size="21.6" font-weight="normal" fill="#000" >Elkader 6 SSW, IA (COOP) -</text>
<text x="1359" y="223.0" textLength="80.3" lengthAdjust="spacingAndGlyphs" font-family='"Liberation Sans", sans-serif' font-size="21.6" font-weight="bold" fill="#1111cc" >Wettest</text>
<text x="1091.5" y="264.5" textLength="290.5" lengthAdjust="spacingAndGlyphs" font-family='"Liberation Sans", sans-serif' font-size="21.6" font-weight="normal" fill="#000" >Strawberry Point, IA (COOP) -</text>
<text x="1387.5" y="264.5" textLength="80.5" lengthAdjust="spacingAndGlyphs" font-family='"Liberation Sans", sans-serif' font-size="21.6" font-weight="bold" fill="#1111cc" >Wettest</text>
<text x="1091.5" y="306.4" textLength="379.5" lengthAdjust="spacingAndGlyphs" font-family='"Liberation Sans", sans-serif' font-size="21.6" font-weight="normal" fill="#000" >Prairie du Chien 1.4 N, WI (CoCoRaHS)</text>
<text x="1091.5" y="348.0" textLength="374.8" lengthAdjust="spacingAndGlyphs" font-family='"Liberation Sans", sans-serif' font-size="21.6" font-weight="normal" fill="#000" >Harpers Ferry 6.4 SSW, IA (CoCoRaHS)</text>
<text x="1091.5" y="390.5" textLength="265.0" lengthAdjust="spacingAndGlyphs" font-family='"Liberation Sans", sans-serif' font-size="21.6" font-weight="normal" fill="#000" >Steuben 4 SE, WI (COOP) –</text>
<text x="1361.5" y="390.5" textLength="12.0" lengthAdjust="spacingAndGlyphs" font-family='"Liberation Sans", sans-serif' font-size="21.6" font-weight="bold" fill="#1111cc" >2</text>
<text x="1374.3" y="382.9" textLength="16.9" lengthAdjust="spacingAndGlyphs" font-family='"Liberation Sans", sans-serif' font-size="14.2" font-weight="bold" fill="#1111cc" >nd</text>
<text x="1397.5" y="390.5" textLength="79.3" lengthAdjust="spacingAndGlyphs" font-family='"Liberation Sans", sans-serif' font-size="21.6" font-weight="bold" fill="#1111cc" >Wettest</text>
<text x="1091.5" y="437.0" textLength="281.8" lengthAdjust="spacingAndGlyphs" font-family='"Liberation Sans", sans-serif' font-size="21.6" font-weight="normal" fill="#000" >Gays Mills 1 NE, WI (COOP) -</text>
<text x="1379.5" y="437.0" textLength="79.8" lengthAdjust="spacingAndGlyphs" font-family='"Liberation Sans", sans-serif' font-size="21.6" font-weight="bold" fill="#1111cc" >Wettest</text>
<rect x="838.6" y="471.3" width="801.8000000000001" height="38.30" fill="#7f6000"/>
<rect x="838.6" y="515.0" width="801.8000000000001" height="38.30" fill="#7f6000"/>
<rect x="838.6" y="554.4" width="801.8000000000001" height="41.80" fill="#fbebe7"/>
<rect x="838.6" y="598.0" width="801.8000000000001" height="39.20" fill="#f7d6cc"/>
<rect x="838.6" y="639.0" width="801.8000000000001" height="45.00" fill="#fbebe7"/>
<rect x="838.6" y="685.8" width="801.8000000000001" height="43.00" fill="#f7d6cc"/>
<rect x="838.6" y="730.7" width="801.8000000000001" height="44.50" fill="#fbebe7"/>
<rect x="838.6" y="777.0" width="801.8000000000001" height="43.80" fill="#f7d6cc"/>
<rect x="1071.6" y="515.0" width="2.60" height="305.80" fill="#fff"/>
<text x="1209" y="499.0" textLength="61" lengthAdjust="spacingAndGlyphs" font-family='"Liberation Sans", sans-serif' font-size="21.6" font-weight="bold" fill="#fff" >Driest</text>
<text x="890.5" y="541.8" textLength="130.5" lengthAdjust="spacingAndGlyphs" font-family='"Liberation Sans", sans-serif' font-size="21.6" font-weight="bold" fill="#fff" >Precipitation</text>
<text x="1313.5" y="541.8" textLength="86.5" lengthAdjust="spacingAndGlyphs" font-family='"Liberation Sans", sans-serif' font-size="21.6" font-weight="bold" fill="#fff" >Location</text>
<text x="928.5" y="583.8" textLength="53.0" lengthAdjust="spacingAndGlyphs" font-family='"Liberation Sans", sans-serif' font-size="21.6" font-weight="normal" fill="#000" >0.74”</text>
<text x="928.5" y="625.5" textLength="53.0" lengthAdjust="spacingAndGlyphs" font-family='"Liberation Sans", sans-serif' font-size="21.6" font-weight="normal" fill="#000" >1.16”</text>
<text x="928.5" y="667.5" textLength="53.0" lengthAdjust="spacingAndGlyphs" font-family='"Liberation Sans", sans-serif' font-size="21.6" font-weight="normal" fill="#000" >1.42”</text>
<text x="928.5" y="713.3" textLength="53.0" lengthAdjust="spacingAndGlyphs" font-family='"Liberation Sans", sans-serif' font-size="21.6" font-weight="normal" fill="#000" >1.55”</text>
<text x="928.5" y="759.5" textLength="53.0" lengthAdjust="spacingAndGlyphs" font-family='"Liberation Sans", sans-serif' font-size="21.6" font-weight="normal" fill="#000" >1.62”</text>
<text x="928.5" y="805.5" textLength="53.0" lengthAdjust="spacingAndGlyphs" font-family='"Liberation Sans", sans-serif' font-size="21.6" font-weight="normal" fill="#000" >1.64”</text>
<text x="1089.3" y="583.8" textLength="310.7" lengthAdjust="spacingAndGlyphs" font-family='"Liberation Sans", sans-serif' font-size="21.6" font-weight="normal" fill="#000" >La Crescent Dam 7, MN (COOP)</text>
<text x="1089.3" y="625.5" textLength="207.5" lengthAdjust="spacingAndGlyphs" font-family='"Liberation Sans", sans-serif' font-size="21.6" font-weight="normal" fill="#000" >St. Ansgar, IA (COOP)</text>
<text x="1089.3" y="667.5" textLength="507.2" lengthAdjust="spacingAndGlyphs" font-family='"Liberation Sans", sans-serif' font-size="21.6" font-weight="normal" fill="#000" >Austin Waste Water Treatment Facility, MN (COOP)</text>
<text x="1089.3" y="713.3" textLength="278.2" lengthAdjust="spacingAndGlyphs" font-family='"Liberation Sans", sans-serif' font-size="21.6" font-weight="normal" fill="#000" >Theilman 1SSW, MN (COOP)</text>
<text x="1089.3" y="759.5" textLength="262.0" lengthAdjust="spacingAndGlyphs" font-family='"Liberation Sans", sans-serif' font-size="21.6" font-weight="normal" fill="#000" >Rushford, MN (CoCoRaHS)</text>
<text x="1089.3" y="805.5" textLength="171.2" lengthAdjust="spacingAndGlyphs" font-family='"Liberation Sans", sans-serif' font-size="21.6" font-weight="normal" fill="#000" >Osage, IA (COOP)</text>
<path d="M1121 629 L1123 627.8 L1125 629.8 L1127 627.8 L1129 629.8 L1131 627.8 L1133 629.8 L1135 627.8 L1137 629.8 L1139 627.8 L1141 629.8 L1143 627.8 L1145 629.8 L1147 627.8 L1149 629.8 L1151 627.8 L1153 629.8 L1155 627.8 L1157 629.8 L1159 627.8 L1161 629.8 L1163 627.8 L1165 629.8 L1167 627.8 L1169 629.8 L1171 627.8 L1173 629.8 L1175 627.8 L1177 629.8 L1179 627.8 L1181 629.8 L1183 627.8 L1185 629.8 L1187 627.8" fill="none" stroke="#e03030" stroke-width="0.8"/>
<defs><linearGradient id="shg" x1="0" y1="0" x2="0" y2="1">
<stop offset="0" stop-color="#000" stop-opacity="0"/><stop offset="0.35" stop-color="#000" stop-opacity="0.06"/>
<stop offset="0.8" stop-color="#000" stop-opacity="0.33"/><stop offset="1" stop-color="#000" stop-opacity="0.5"/></linearGradient></defs>
<rect x="0" y="859" width="1676.6" height="11" fill="url(#shg)"/>
<rect x="0" y="869.8" width="1677" height="71.7" fill="#000"/>
<text x="158" y="892.8" textLength="474.5" lengthAdjust="spacing" font-family='"Liberation Sans", sans-serif' font-size="20.4" font-weight="bold" fill="#fff" >NATIONAL WEATHER SERVICE</text>
<text x="158" y="917.5" textLength="393.5" lengthAdjust="spacing" font-family='"Liberation Sans", sans-serif' font-size="20.4" font-weight="bold" fill="#fff" >LA CROSSE, WISCONSIN</text>
<text x="158" y="933.8" textLength="495.7" lengthAdjust="spacing" font-family='"Liberation Sans", sans-serif' font-size="11.9" font-weight="bold" fill="#fff" >OCEANIC AND ATMOSPHERIC ADMINISTRATION</text>
<line x1="895.6" y1="930.6" x2="927.2" y2="881.8" stroke="#fff" stroke-width="2.6"/>
<text x="989.5" y="901.4" textLength="181.5" lengthAdjust="spacing" font-family='"Liberation Sans", sans-serif' font-size="17.6" font-weight="bold" fill="#fff" >FIND US ON:</text>
<text x="988.5" y="923.7" textLength="295.2" lengthAdjust="spacing" font-family='"Liberation Sans", sans-serif' font-size="17.6" font-weight="bold" fill="#fff" >weather.gov/lacrosse</text>
<ellipse cx="1451.5" cy="902.4" rx="29.6" ry="22.6" fill="#fff"/>
<path d="M1446.4 925.3 L1446.4 909 L1439.3 909 L1439.3 903.4 L1446.4 903.4 L1446.4 898.5 Q1446.4 889 1456.5 889 L1464.6 889 L1464.6 894.8 L1459.5 894.8 Q1456.3 894.8 1456.3 898 L1456.3 903.4 L1464 903.4 L1463 909 L1456.3 909 L1456.3 925.3 Z" fill="#000"/>
<ellipse cx="1527.6" cy="903.9" rx="29.5" ry="22" fill="#fff"/>
<path d="M1545.5 896.2 q-2 .9 -4.3 1.2 q2.3 -1.4 3.1 -3.4 q-2.2 1.3 -4.6 1.7 a6.4 5.4 0 0 0 -11 4.9 q-9 -.4 -15.5 -6.4 q-2.6 4.5 2.2 7.3 q-1.800 0 -3.300 -.7 q.1 3.900 5.800 5.300 q-1.600 .4 -3.300 .1 q1.500 3.700 6.900 3.800 q-4.600 3.100 -11.200 2.300 q5.400 2.900 11.800 2.900 q14.500 -.3 19.600 -11.300 q1.300 -2.900 1.200 -5.600 q2.200 -1.200 3.600 -3.100 z" fill="#000"/>
<path d="M1588 885 Q1621 883.7 1654 885 Q1660.4 885.6 1660.6 892 Q1661.5 905.5 1660.6 919 Q1660.4 925.7 1654 926.2 Q1621 927.4 1588 926.2 Q1581.4 925.7 1581 919 Q1580.100 905.5 1581 892 Q1581.4 885.6 1588 885 Z" fill="#fff"/>
<path d="M1612.6 896.8 L1633.3 905.6 L1612.6 914.3 Z" fill="#000"/>
<g id="nwslogo">
<defs><clipPath id="lgc"><ellipse cx="60.8" cy="889.9" rx="52.3" ry="48.6"/></clipPath>
<clipPath id="lgi"><circle cx="60.6" cy="888.4" r="26.6"/></clipPath>
</defs>
<ellipse cx="60.8" cy="889.9" rx="53.7" ry="50" fill="#2b1213"/>
<ellipse cx="60.8" cy="889.9" rx="52.3" ry="48.6" fill="#f2dddd"/>
<rect x="5" y="898" width="112" height="45" fill="#cf1420" clip-path="url(#lgc)"/>
<circle cx="60.6" cy="888.4" r="27.2" fill="#3a2a2a"/>
<circle cx="60.6" cy="888.4" r="26.2" fill="#cdcdcd"/>
<g clip-path="url(#lgi)">
<path d="M60.6 888.4 L60.6 860 M60.6 888.4 L75 863.5 M60.6 888.4 L86 875 M60.6 888.4 L35 875 M60.6 888.4 L46 863.5" stroke="#444" stroke-width="0.9" fill="none"/>
<path d="M33 896 L33 905 Q36 909.5 41 907.5 Q44 911 49.500 908.500 Q54 912 60 908.800 Q65 911.500 70 908.500 Q75 911 79.500 907.500 Q85 908 88 903 L88 896 Z" fill="#fff" stroke="#555" stroke-width="0.7"/>
</g>
<path d="M29.1 892.3 Q28.500 886 30.3 884.1 Q31.500 880.500 35 880.6 Q40 878 46.6 878.9 Q46.500 875.500 49 874.8 Q51.500 872.500 54.8 873 Q60 871.500 65.3 872.5 Q70.500 872 74.6 874.2 Q79.500 875.500 81.6 879.5 Q86 879.500 88.6 881.8 Q92.500 882.500 92.7 885.3 Q94 888.500 92.1 891.1 Q90 894 86.2 894.6 Q85 897.500 81.6 898.1 Q78.500 900 74.6 899.3 Q70.500 902 65.3 901.6 Q60 903.500 54.8 902.2 Q50 902 46.6 899.3 Q42 899.800 38.5 898.1 Q34 898.500 31.5 896.4 Q28.800 895 29.1 892.3 Z" fill="#0b0b0b"/>
<path d="M37.9 865.7 L47.2 866.6 L55.9 877.1 L53 878.3 L64.7 887.6 L60.6 889.4 L72.8 898.7 L69.9 899.9 L81.6 908.6 L64.7 899.9 L68.8 898.1 L55.9 888.8 L59.4 887 L47.8 878.3 L51.3 876.5 Z" fill="#f4f4f4" stroke="#2a2a2a" stroke-width="0.7" stroke-linejoin="round"/>
<text transform="translate(20.62 888.90) rotate(-87.9) scale(0.554 1)" text-anchor="middle" font-family='"Liberation Sans", sans-serif' font-size="14.4" font-weight="bold" fill="#141010" stroke="#141010" stroke-width="0.5">N</text>
<text transform="translate(21.38 883.25) rotate(-76.8) scale(0.554 1)" text-anchor="middle" font-family='"Liberation Sans", sans-serif' font-size="14.4" font-weight="bold" fill="#141010" stroke="#141010" stroke-width="0.5">A</text>
<text transform="translate(23.04 878.20) rotate(-66.9) scale(0.554 1)" text-anchor="middle" font-family='"Liberation Sans", sans-serif' font-size="14.4" font-weight="bold" fill="#141010" stroke="#141010" stroke-width="0.5">T</text>
<text transform="translate(24.62 875.01) rotate(-60.5) scale(0.554 1)" text-anchor="middle" font-family='"Liberation Sans", sans-serif' font-size="14.4" font-weight="bold" fill="#141010" stroke="#141010" stroke-width="0.5">I</text>
<text transform="translate(26.91 871.50) rotate(-53.3) scale(0.554 1)" text-anchor="middle" font-family='"Liberation Sans", sans-serif' font-size="14.4" font-weight="bold" fill="#141010" stroke="#141010" stroke-width="0.5">O</text>
<text transform="translate(30.89 867.02) rotate(-43.6) scale(0.554 1)" text-anchor="middle" font-family='"Liberation Sans", sans-serif' font-size="14.4" font-weight="bold" fill="#141010" stroke="#141010" stroke-width="0.5">N</text>
<text transform="translate(35.37 863.36) rotate(-35.0) scale(0.554 1)" text-anchor="middle" font-family='"Liberation Sans", sans-serif' font-size="14.4" font-weight="bold" fill="#141010" stroke="#141010" stroke-width="0.5">A</text>
<text transform="translate(39.89 860.62) rotate(-27.5) scale(0.554 1)" text-anchor="middle" font-family='"Liberation Sans", sans-serif' font-size="14.4" font-weight="bold" fill="#141010" stroke="#141010" stroke-width="0.5">L</text>
<text transform="translate(47.67 857.49) rotate(-16.5) scale(0.554 1)" text-anchor="middle" font-family='"Liberation Sans", sans-serif' font-size="14.4" font-weight="bold" fill="#141010" stroke="#141010" stroke-width="0.5">W</text>
<text transform="translate(53.92 856.11) rotate(-8.5) scale(0.554 1)" text-anchor="middle" font-family='"Liberation Sans", sans-serif' font-size="14.4" font-weight="bold" fill="#141010" stroke="#141010" stroke-width="0.5">E</text>
<text transform="translate(59.43 855.62) rotate(-1.7) scale(0.554 1)" text-anchor="middle" font-family='"Liberation Sans", sans-serif' font-size="14.4" font-weight="bold" fill="#141010" stroke="#141010" stroke-width="0.5">A</text>
<text transform="translate(64.77 855.77) rotate(4.9) scale(0.554 1)" text-anchor="middle" font-family='"Liberation Sans", sans-serif' font-size="14.4" font-weight="bold" fill="#141010" stroke="#141010" stroke-width="0.5">T</text>
<text transform="translate(70.05 856.52) rotate(11.4) scale(0.554 1)" text-anchor="middle" font-family='"Liberation Sans", sans-serif' font-size="14.4" font-weight="bold" fill="#141010" stroke="#141010" stroke-width="0.5">H</text>
<text transform="translate(75.40 857.95) rotate(18.4) scale(0.554 1)" text-anchor="middle" font-family='"Liberation Sans", sans-serif' font-size="14.4" font-weight="bold" fill="#141010" stroke="#141010" stroke-width="0.5">E</text>
<text transform="translate(80.53 860.03) rotate(25.7) scale(0.554 1)" text-anchor="middle" font-family='"Liberation Sans", sans-serif' font-size="14.4" font-weight="bold" fill="#141010" stroke="#141010" stroke-width="0.5">R</text>
<text transform="translate(87.13 864.01) rotate(36.6) scale(0.554 1)" text-anchor="middle" font-family='"Liberation Sans", sans-serif' font-size="14.4" font-weight="bold" fill="#141010" stroke="#141010" stroke-width="0.5">S</text>
<text transform="translate(91.19 867.48) rotate(44.7) scale(0.554 1)" text-anchor="middle" font-family='"Liberation Sans", sans-serif' font-size="14.4" font-weight="bold" fill="#141010" stroke="#141010" stroke-width="0.5">E</text>
<text transform="translate(94.80 871.65) rotate(53.6) scale(0.554 1)" text-anchor="middle" font-family='"Liberation Sans", sans-serif' font-size="14.4" font-weight="bold" fill="#141010" stroke="#141010" stroke-width="0.5">R</text>
<text transform="translate(97.72 876.38) rotate(63.3) scale(0.554 1)" text-anchor="middle" font-family='"Liberation Sans", sans-serif' font-size="14.4" font-weight="bold" fill="#141010" stroke="#141010" stroke-width="0.5">V</text>
<text transform="translate(99.21 879.84) rotate(70.1) scale(0.554 1)" text-anchor="middle" font-family='"Liberation Sans", sans-serif' font-size="14.4" font-weight="bold" fill="#141010" stroke="#141010" stroke-width="0.5">I</text>
<text transform="translate(100.30 883.63) rotate(77.6) scale(0.554 1)" text-anchor="middle" font-family='"Liberation Sans", sans-serif' font-size="14.4" font-weight="bold" fill="#141010" stroke="#141010" stroke-width="0.5">C</text>
<text transform="translate(100.99 889.12) rotate(88.3) scale(0.554 1)" text-anchor="middle" font-family='"Liberation Sans", sans-serif' font-size="14.4" font-weight="bold" fill="#141010" stroke="#141010" stroke-width="0.5">E</text><text transform="translate(24.76 917.39) rotate(51.0) scale(0.730 1)" text-anchor="middle" font-family='"Liberation Sans", sans-serif' font-size="16.2" font-weight="bold" fill="#fff" >L</text>
<text transform="translate(30.24 923.07) rotate(41.0) scale(0.730 1)" text-anchor="middle" font-family='"Liberation Sans", sans-serif' font-size="16.2" font-weight="bold" fill="#fff" >A</text>
<text transform="translate(40.05 929.58) rotate(26.2) scale(0.730 1)" text-anchor="middle" font-family='"Liberation Sans", sans-serif' font-size="16.2" font-weight="bold" fill="#fff" >C</text>
<text transform="translate(48.02 932.64) rotate(15.7) scale(0.730 1)" text-anchor="middle" font-family='"Liberation Sans", sans-serif' font-size="16.2" font-weight="bold" fill="#fff" >R</text>
<text transform="translate(56.74 934.23) rotate(4.9) scale(0.730 1)" text-anchor="middle" font-family='"Liberation Sans", sans-serif' font-size="16.2" font-weight="bold" fill="#fff" >O</text>
<text transform="translate(65.26 934.19) rotate(-5.4) scale(0.730 1)" text-anchor="middle" font-family='"Liberation Sans", sans-serif' font-size="16.2" font-weight="bold" fill="#fff" >S</text>
<text transform="translate(73.01 932.79) rotate(-15.0) scale(0.730 1)" text-anchor="middle" font-family='"Liberation Sans", sans-serif' font-size="16.2" font-weight="bold" fill="#fff" >S</text>
<text transform="translate(80.40 930.13) rotate(-24.7) scale(0.730 1)" text-anchor="middle" font-family='"Liberation Sans", sans-serif' font-size="16.2" font-weight="bold" fill="#fff" >E</text>
<text transform="translate(85.32 927.50) rotate(-31.6) scale(0.730 1)" text-anchor="middle" font-family='"Liberation Sans", sans-serif' font-size="16.2" font-weight="bold" fill="#fff" >,</text>
<text transform="translate(93.58 921.01) rotate(-44.8) scale(0.730 1)" text-anchor="middle" font-family='"Liberation Sans", sans-serif' font-size="16.2" font-weight="bold" fill="#fff" >W</text>
<text transform="translate(98.27 915.53) rotate(-54.1) scale(0.730 1)" text-anchor="middle" font-family='"Liberation Sans", sans-serif' font-size="16.2" font-weight="bold" fill="#fff" >I</text>
</g>
</svg>
</body></html>
